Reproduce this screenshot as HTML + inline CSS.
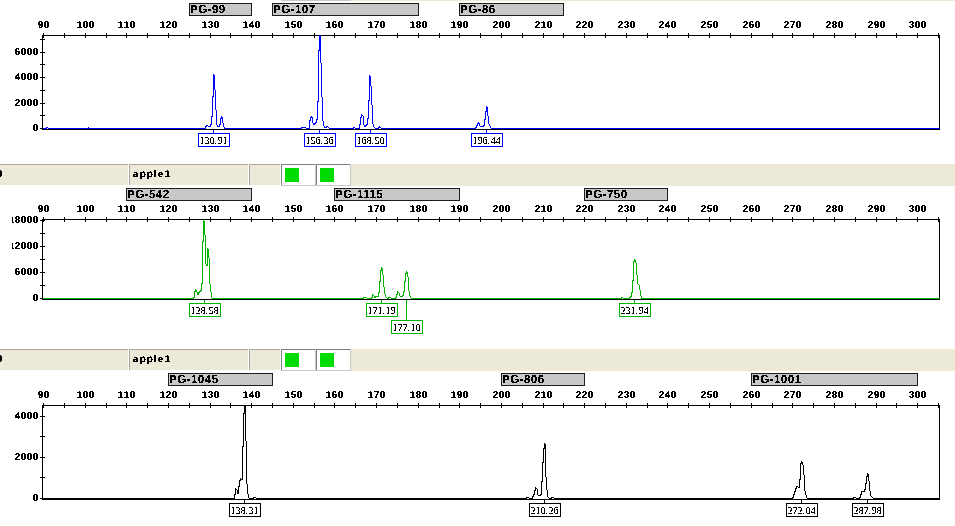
<!DOCTYPE html>
<html><head><meta charset="utf-8"><style>
html,body{margin:0;padding:0;background:#fff;width:955px;height:526px;overflow:hidden}
svg{display:block}
text{font-family:"Liberation Sans",sans-serif;fill:#000;text-rendering:geometricPrecision}
.ax{font-size:10px;font-weight:bold;letter-spacing:0.44px}
.bin{font-size:11.5px;font-weight:bold;letter-spacing:0.5px}
.pk{font-family:"Liberation Serif",serif;font-size:10.5px;text-rendering:auto}
.cell{font-size:10px;font-weight:bold}
</style></head><body>
<svg width="955" height="526" viewBox="0 0 955 526" shape-rendering="crispEdges">
<defs><filter id="crisp" x="0" y="0" width="955" height="526" filterUnits="userSpaceOnUse"><feComponentTransfer><feFuncA type="discrete" tableValues="0 1 1 1 1"/></feComponentTransfer></filter><filter id="crisp4" x="0" y="0" width="955" height="526" filterUnits="userSpaceOnUse"><feComponentTransfer><feFuncA type="discrete" tableValues="0 0 1 1 1"/></feComponentTransfer></filter><clipPath id="clipL"><rect x="12" y="0" width="955" height="526"/></clipPath></defs>
<rect width="955" height="526" fill="#fff"/>
<rect x="351" y="0" width="604" height="1" fill="#ece9d8"/>
<rect x="281" y="0" width="70" height="1" fill="#c8c8c8"/>
<rect x="189" y="3" width="63" height="13" fill="#1e1e1e"/>
<rect x="190" y="4" width="61" height="11" fill="#c8c8c8"/>
<rect x="272" y="3" width="147" height="13" fill="#1e1e1e"/>
<rect x="273" y="4" width="145" height="11" fill="#c8c8c8"/>
<rect x="459" y="3" width="105" height="13" fill="#1e1e1e"/>
<rect x="460" y="4" width="103" height="11" fill="#c8c8c8"/>
<rect x="42" y="35" width="898" height="1" fill="#000"/>
<rect x="42" y="35" width="1" height="95" fill="#000"/>
<rect x="939" y="35" width="1" height="95" fill="#000"/>
<rect x="42" y="129" width="898" height="1" fill="#000"/>
<rect x="43" y="33" width="1" height="5" fill="#000"/>
<rect x="64" y="33" width="1" height="5" fill="#000"/>
<rect x="85" y="33" width="1" height="5" fill="#000"/>
<rect x="106" y="33" width="1" height="5" fill="#000"/>
<rect x="126" y="33" width="1" height="5" fill="#000"/>
<rect x="147" y="33" width="1" height="5" fill="#000"/>
<rect x="168" y="33" width="1" height="5" fill="#000"/>
<rect x="189" y="33" width="1" height="5" fill="#000"/>
<rect x="210" y="33" width="1" height="5" fill="#000"/>
<rect x="230" y="33" width="1" height="5" fill="#000"/>
<rect x="251" y="33" width="1" height="5" fill="#000"/>
<rect x="272" y="33" width="1" height="5" fill="#000"/>
<rect x="293" y="33" width="1" height="5" fill="#000"/>
<rect x="314" y="33" width="1" height="5" fill="#000"/>
<rect x="334" y="33" width="1" height="5" fill="#000"/>
<rect x="355" y="33" width="1" height="5" fill="#000"/>
<rect x="376" y="33" width="1" height="5" fill="#000"/>
<rect x="397" y="33" width="1" height="5" fill="#000"/>
<rect x="418" y="33" width="1" height="5" fill="#000"/>
<rect x="439" y="33" width="1" height="5" fill="#000"/>
<rect x="459" y="33" width="1" height="5" fill="#000"/>
<rect x="480" y="33" width="1" height="5" fill="#000"/>
<rect x="501" y="33" width="1" height="5" fill="#000"/>
<rect x="522" y="33" width="1" height="5" fill="#000"/>
<rect x="543" y="33" width="1" height="5" fill="#000"/>
<rect x="563" y="33" width="1" height="5" fill="#000"/>
<rect x="584" y="33" width="1" height="5" fill="#000"/>
<rect x="605" y="33" width="1" height="5" fill="#000"/>
<rect x="626" y="33" width="1" height="5" fill="#000"/>
<rect x="647" y="33" width="1" height="5" fill="#000"/>
<rect x="667" y="33" width="1" height="5" fill="#000"/>
<rect x="688" y="33" width="1" height="5" fill="#000"/>
<rect x="709" y="33" width="1" height="5" fill="#000"/>
<rect x="730" y="33" width="1" height="5" fill="#000"/>
<rect x="751" y="33" width="1" height="5" fill="#000"/>
<rect x="772" y="33" width="1" height="5" fill="#000"/>
<rect x="792" y="33" width="1" height="5" fill="#000"/>
<rect x="813" y="33" width="1" height="5" fill="#000"/>
<rect x="834" y="33" width="1" height="5" fill="#000"/>
<rect x="855" y="33" width="1" height="5" fill="#000"/>
<rect x="876" y="33" width="1" height="5" fill="#000"/>
<rect x="896" y="33" width="1" height="5" fill="#000"/>
<rect x="917" y="33" width="1" height="5" fill="#000"/>
<rect x="938" y="33" width="1" height="5" fill="#000"/>
<rect x="40" y="128" width="5" height="1" fill="#000"/>
<rect x="40" y="115" width="5" height="1" fill="#000"/>
<rect x="40" y="103" width="5" height="1" fill="#000"/>
<rect x="40" y="90" width="5" height="1" fill="#000"/>
<rect x="40" y="77" width="5" height="1" fill="#000"/>
<rect x="40" y="64" width="5" height="1" fill="#000"/>
<rect x="40" y="52" width="5" height="1" fill="#000"/>
<rect x="40" y="39" width="5" height="1" fill="#000"/>
<path d="M43 128h1v1h-1zM44 128h1v1h-1zM45 128h1v1h-1zM46 127h1v2h-1zM47 127h1v1h-1zM48 128h1v1h-1zM49 128h1v1h-1zM50 128h1v1h-1zM51 128h1v1h-1zM52 128h1v1h-1zM53 128h1v1h-1zM54 128h1v1h-1zM55 128h1v1h-1zM56 128h1v1h-1zM57 128h1v1h-1zM58 128h1v1h-1zM59 128h1v1h-1zM60 128h1v1h-1zM61 128h1v1h-1zM62 128h1v1h-1zM63 128h1v1h-1zM64 128h1v1h-1zM65 128h1v1h-1zM66 128h1v1h-1zM67 128h1v1h-1zM68 128h1v1h-1zM69 128h1v1h-1zM70 128h1v1h-1zM71 128h1v1h-1zM72 128h1v1h-1zM73 128h1v1h-1zM74 128h1v1h-1zM75 128h1v1h-1zM76 128h1v1h-1zM77 128h1v1h-1zM78 128h1v1h-1zM79 128h1v1h-1zM80 128h1v1h-1zM81 128h1v1h-1zM82 128h1v1h-1zM83 128h1v1h-1zM84 128h1v1h-1zM85 128h1v1h-1zM86 128h1v1h-1zM87 128h1v1h-1zM88 127h1v2h-1zM89 128h1v1h-1zM90 128h1v1h-1zM91 128h1v1h-1zM92 128h1v1h-1zM93 128h1v1h-1zM94 128h1v1h-1zM95 128h1v1h-1zM96 128h1v1h-1zM97 128h1v1h-1zM98 128h1v1h-1zM99 128h1v1h-1zM100 128h1v1h-1zM101 128h1v1h-1zM102 128h1v1h-1zM103 128h1v1h-1zM104 128h1v1h-1zM105 128h1v1h-1zM106 128h1v1h-1zM107 128h1v1h-1zM108 128h1v1h-1zM109 128h1v1h-1zM110 128h1v1h-1zM111 128h1v1h-1zM112 128h1v1h-1zM113 128h1v1h-1zM114 128h1v1h-1zM115 128h1v1h-1zM116 128h1v1h-1zM117 128h1v1h-1zM118 128h1v1h-1zM119 128h1v1h-1zM120 128h1v1h-1zM121 128h1v1h-1zM122 128h1v1h-1zM123 128h1v1h-1zM124 128h1v1h-1zM125 128h1v1h-1zM126 128h1v1h-1zM127 128h1v1h-1zM128 128h1v1h-1zM129 128h1v1h-1zM130 128h1v1h-1zM131 128h1v1h-1zM132 128h1v1h-1zM133 128h1v1h-1zM134 128h1v1h-1zM135 128h1v1h-1zM136 128h1v1h-1zM137 128h1v1h-1zM138 128h1v1h-1zM139 128h1v1h-1zM140 128h1v1h-1zM141 128h1v1h-1zM142 128h1v1h-1zM143 128h1v1h-1zM144 128h1v1h-1zM145 128h1v1h-1zM146 128h1v1h-1zM147 128h1v1h-1zM148 128h1v1h-1zM149 128h1v1h-1zM150 128h1v1h-1zM151 128h1v1h-1zM152 128h1v1h-1zM153 128h1v1h-1zM154 128h1v1h-1zM155 128h1v1h-1zM156 128h1v1h-1zM157 128h1v1h-1zM158 128h1v1h-1zM159 128h1v1h-1zM160 128h1v1h-1zM161 128h1v1h-1zM162 128h1v1h-1zM163 128h1v1h-1zM164 128h1v1h-1zM165 128h1v1h-1zM166 128h1v1h-1zM167 128h1v1h-1zM168 128h1v1h-1zM169 128h1v1h-1zM170 128h1v1h-1zM171 128h1v1h-1zM172 128h1v1h-1zM173 128h1v1h-1zM174 128h1v1h-1zM175 128h1v1h-1zM176 128h1v1h-1zM177 128h1v1h-1zM178 128h1v1h-1zM179 128h1v1h-1zM180 128h1v1h-1zM181 128h1v1h-1zM182 128h1v1h-1zM183 128h1v1h-1zM184 128h1v1h-1zM185 128h1v1h-1zM186 128h1v1h-1zM187 128h1v1h-1zM188 128h1v1h-1zM189 128h1v1h-1zM190 128h1v1h-1zM191 128h1v1h-1zM192 128h1v1h-1zM193 128h1v1h-1zM194 128h1v1h-1zM195 128h1v1h-1zM196 128h1v1h-1zM197 128h1v1h-1zM198 128h1v1h-1zM199 128h1v1h-1zM200 128h1v1h-1zM201 128h1v1h-1zM202 128h1v1h-1zM203 128h1v1h-1zM204 128h1v1h-1zM205 126h1v3h-1zM206 125h1v2h-1zM207 125h1v1h-1zM208 126h1v1h-1zM209 126h1v1h-1zM210 124h1v3h-1zM211 116h1v9h-1zM212 96h1v21h-1zM213 74h1v23h-1zM214 75h1v15h-1zM215 90h1v20h-1zM216 110h1v15h-1zM217 125h1v2h-1zM218 126h1v1h-1zM219 124h1v3h-1zM220 118h1v7h-1zM221 116h1v3h-1zM222 117h1v6h-1zM223 123h1v4h-1zM224 127h1v2h-1zM225 128h1v1h-1zM226 128h1v1h-1zM227 128h1v1h-1zM228 128h1v1h-1zM229 128h1v1h-1zM230 128h1v1h-1zM231 128h1v1h-1zM232 128h1v1h-1zM233 128h1v1h-1zM234 128h1v1h-1zM235 128h1v1h-1zM236 128h1v1h-1zM237 128h1v1h-1zM238 128h1v1h-1zM239 128h1v1h-1zM240 128h1v1h-1zM241 128h1v1h-1zM242 128h1v1h-1zM243 128h1v1h-1zM244 128h1v1h-1zM245 128h1v1h-1zM246 128h1v1h-1zM247 128h1v1h-1zM248 128h1v1h-1zM249 128h1v1h-1zM250 128h1v1h-1zM251 128h1v1h-1zM252 128h1v1h-1zM253 128h1v1h-1zM254 128h1v1h-1zM255 128h1v1h-1zM256 128h1v1h-1zM257 128h1v1h-1zM258 128h1v1h-1zM259 128h1v1h-1zM260 128h1v1h-1zM261 128h1v1h-1zM262 128h1v1h-1zM263 128h1v1h-1zM264 128h1v1h-1zM265 128h1v1h-1zM266 128h1v1h-1zM267 128h1v1h-1zM268 128h1v1h-1zM269 128h1v1h-1zM270 128h1v1h-1zM271 128h1v1h-1zM272 128h1v1h-1zM273 128h1v1h-1zM274 128h1v1h-1zM275 128h1v1h-1zM276 128h1v1h-1zM277 128h1v1h-1zM278 128h1v1h-1zM279 128h1v1h-1zM280 128h1v1h-1zM281 128h1v1h-1zM282 128h1v1h-1zM283 128h1v1h-1zM284 128h1v1h-1zM285 128h1v1h-1zM286 128h1v1h-1zM287 128h1v1h-1zM288 128h1v1h-1zM289 128h1v1h-1zM290 128h1v1h-1zM291 128h1v1h-1zM292 128h1v1h-1zM293 128h1v1h-1zM294 128h1v1h-1zM295 128h1v1h-1zM296 128h1v1h-1zM297 128h1v1h-1zM298 128h1v1h-1zM299 128h1v1h-1zM300 128h1v1h-1zM301 127h1v2h-1zM302 127h1v1h-1zM303 127h1v1h-1zM304 127h1v1h-1zM305 127h1v1h-1zM306 128h1v1h-1zM307 128h1v1h-1zM308 128h1v1h-1zM309 120h1v9h-1zM310 117h1v4h-1zM311 116h1v2h-1zM312 117h1v6h-1zM313 123h1v2h-1zM314 123h1v2h-1zM315 122h1v2h-1zM316 119h1v4h-1zM317 101h1v19h-1zM318 50h1v52h-1zM319 35h1v16h-1zM320 36h1v27h-1zM321 63h1v34h-1zM322 97h1v24h-1zM323 121h1v5h-1zM324 126h1v2h-1zM325 127h1v1h-1zM326 126h1v2h-1zM327 126h1v1h-1zM328 127h1v1h-1zM329 128h1v1h-1zM330 128h1v1h-1zM331 128h1v1h-1zM332 128h1v1h-1zM333 128h1v1h-1zM334 128h1v1h-1zM335 128h1v1h-1zM336 128h1v1h-1zM337 128h1v1h-1zM338 128h1v1h-1zM339 128h1v1h-1zM340 128h1v1h-1zM341 128h1v1h-1zM342 128h1v1h-1zM343 128h1v1h-1zM344 128h1v1h-1zM345 128h1v1h-1zM346 128h1v1h-1zM347 128h1v1h-1zM348 128h1v1h-1zM349 128h1v1h-1zM350 128h1v1h-1zM351 128h1v1h-1zM352 128h1v1h-1zM353 127h1v2h-1zM354 127h1v1h-1zM355 128h1v1h-1zM356 128h1v1h-1zM357 128h1v1h-1zM358 128h1v1h-1zM359 124h1v5h-1zM360 117h1v8h-1zM361 114h1v4h-1zM362 115h1v1h-1zM363 116h1v9h-1zM364 125h1v2h-1zM365 125h1v2h-1zM366 124h1v2h-1zM367 118h1v7h-1zM368 100h1v19h-1zM369 75h1v26h-1zM370 76h1v10h-1zM371 86h1v19h-1zM372 105h1v19h-1zM373 124h1v3h-1zM374 127h1v1h-1zM375 128h1v1h-1zM376 128h1v1h-1zM377 128h1v1h-1zM378 127h1v2h-1zM379 126h1v2h-1zM380 127h1v1h-1zM381 128h1v1h-1zM382 128h1v1h-1zM383 128h1v1h-1zM384 128h1v1h-1zM385 128h1v1h-1zM386 128h1v1h-1zM387 128h1v1h-1zM388 128h1v1h-1zM389 128h1v1h-1zM390 128h1v1h-1zM391 128h1v1h-1zM392 128h1v1h-1zM393 128h1v1h-1zM394 128h1v1h-1zM395 128h1v1h-1zM396 128h1v1h-1zM397 128h1v1h-1zM398 128h1v1h-1zM399 128h1v1h-1zM400 128h1v1h-1zM401 128h1v1h-1zM402 128h1v1h-1zM403 128h1v1h-1zM404 128h1v1h-1zM405 128h1v1h-1zM406 128h1v1h-1zM407 128h1v1h-1zM408 128h1v1h-1zM409 128h1v1h-1zM410 128h1v1h-1zM411 128h1v1h-1zM412 128h1v1h-1zM413 128h1v1h-1zM414 128h1v1h-1zM415 128h1v1h-1zM416 128h1v1h-1zM417 128h1v1h-1zM418 128h1v1h-1zM419 128h1v1h-1zM420 128h1v1h-1zM421 128h1v1h-1zM422 128h1v1h-1zM423 128h1v1h-1zM424 128h1v1h-1zM425 128h1v1h-1zM426 128h1v1h-1zM427 128h1v1h-1zM428 128h1v1h-1zM429 128h1v1h-1zM430 128h1v1h-1zM431 128h1v1h-1zM432 128h1v1h-1zM433 128h1v1h-1zM434 128h1v1h-1zM435 128h1v1h-1zM436 128h1v1h-1zM437 128h1v1h-1zM438 128h1v1h-1zM439 128h1v1h-1zM440 128h1v1h-1zM441 128h1v1h-1zM442 128h1v1h-1zM443 128h1v1h-1zM444 128h1v1h-1zM445 128h1v1h-1zM446 128h1v1h-1zM447 128h1v1h-1zM448 128h1v1h-1zM449 128h1v1h-1zM450 128h1v1h-1zM451 128h1v1h-1zM452 128h1v1h-1zM453 128h1v1h-1zM454 128h1v1h-1zM455 128h1v1h-1zM456 128h1v1h-1zM457 128h1v1h-1zM458 128h1v1h-1zM459 128h1v1h-1zM460 128h1v1h-1zM461 128h1v1h-1zM462 128h1v1h-1zM463 128h1v1h-1zM464 128h1v1h-1zM465 128h1v1h-1zM466 128h1v1h-1zM467 128h1v1h-1zM468 128h1v1h-1zM469 128h1v1h-1zM470 128h1v1h-1zM471 128h1v1h-1zM472 128h1v1h-1zM473 128h1v1h-1zM474 128h1v1h-1zM475 127h1v2h-1zM476 125h1v3h-1zM477 123h1v3h-1zM478 122h1v2h-1zM479 123h1v3h-1zM480 126h1v1h-1zM481 126h1v1h-1zM482 126h1v1h-1zM483 125h1v2h-1zM484 119h1v7h-1zM485 111h1v9h-1zM486 106h1v6h-1zM487 107h1v9h-1zM488 116h1v8h-1zM489 124h1v2h-1zM490 126h1v2h-1zM491 128h1v1h-1zM492 128h1v1h-1zM493 128h1v1h-1zM494 128h1v1h-1zM495 128h1v1h-1zM496 128h1v1h-1zM497 128h1v1h-1zM498 128h1v1h-1zM499 128h1v1h-1zM500 128h1v1h-1zM501 128h1v1h-1zM502 128h1v1h-1zM503 128h1v1h-1zM504 128h1v1h-1zM505 128h1v1h-1zM506 128h1v1h-1zM507 128h1v1h-1zM508 128h1v1h-1zM509 128h1v1h-1zM510 128h1v1h-1zM511 128h1v1h-1zM512 128h1v1h-1zM513 128h1v1h-1zM514 128h1v1h-1zM515 128h1v1h-1zM516 128h1v1h-1zM517 128h1v1h-1zM518 128h1v1h-1zM519 128h1v1h-1zM520 128h1v1h-1zM521 128h1v1h-1zM522 128h1v1h-1zM523 128h1v1h-1zM524 128h1v1h-1zM525 128h1v1h-1zM526 128h1v1h-1zM527 128h1v1h-1zM528 128h1v1h-1zM529 128h1v1h-1zM530 128h1v1h-1zM531 128h1v1h-1zM532 128h1v1h-1zM533 128h1v1h-1zM534 128h1v1h-1zM535 128h1v1h-1zM536 128h1v1h-1zM537 128h1v1h-1zM538 128h1v1h-1zM539 128h1v1h-1zM540 128h1v1h-1zM541 128h1v1h-1zM542 128h1v1h-1zM543 128h1v1h-1zM544 128h1v1h-1zM545 128h1v1h-1zM546 128h1v1h-1zM547 128h1v1h-1zM548 128h1v1h-1zM549 128h1v1h-1zM550 128h1v1h-1zM551 128h1v1h-1zM552 128h1v1h-1zM553 128h1v1h-1zM554 128h1v1h-1zM555 128h1v1h-1zM556 128h1v1h-1zM557 128h1v1h-1zM558 128h1v1h-1zM559 128h1v1h-1zM560 128h1v1h-1zM561 128h1v1h-1zM562 128h1v1h-1zM563 128h1v1h-1zM564 128h1v1h-1zM565 128h1v1h-1zM566 128h1v1h-1zM567 128h1v1h-1zM568 128h1v1h-1zM569 128h1v1h-1zM570 128h1v1h-1zM571 128h1v1h-1zM572 128h1v1h-1zM573 128h1v1h-1zM574 128h1v1h-1zM575 128h1v1h-1zM576 128h1v1h-1zM577 128h1v1h-1zM578 128h1v1h-1zM579 128h1v1h-1zM580 128h1v1h-1zM581 128h1v1h-1zM582 128h1v1h-1zM583 128h1v1h-1zM584 128h1v1h-1zM585 128h1v1h-1zM586 128h1v1h-1zM587 128h1v1h-1zM588 128h1v1h-1zM589 128h1v1h-1zM590 128h1v1h-1zM591 128h1v1h-1zM592 128h1v1h-1zM593 128h1v1h-1zM594 128h1v1h-1zM595 128h1v1h-1zM596 128h1v1h-1zM597 128h1v1h-1zM598 128h1v1h-1zM599 128h1v1h-1zM600 128h1v1h-1zM601 128h1v1h-1zM602 128h1v1h-1zM603 128h1v1h-1zM604 128h1v1h-1zM605 128h1v1h-1zM606 128h1v1h-1zM607 128h1v1h-1zM608 128h1v1h-1zM609 128h1v1h-1zM610 128h1v1h-1zM611 128h1v1h-1zM612 128h1v1h-1zM613 128h1v1h-1zM614 128h1v1h-1zM615 128h1v1h-1zM616 128h1v1h-1zM617 128h1v1h-1zM618 128h1v1h-1zM619 128h1v1h-1zM620 128h1v1h-1zM621 128h1v1h-1zM622 128h1v1h-1zM623 128h1v1h-1zM624 128h1v1h-1zM625 128h1v1h-1zM626 128h1v1h-1zM627 128h1v1h-1zM628 128h1v1h-1zM629 128h1v1h-1zM630 128h1v1h-1zM631 128h1v1h-1zM632 128h1v1h-1zM633 128h1v1h-1zM634 128h1v1h-1zM635 128h1v1h-1zM636 128h1v1h-1zM637 128h1v1h-1zM638 128h1v1h-1zM639 128h1v1h-1zM640 128h1v1h-1zM641 128h1v1h-1zM642 128h1v1h-1zM643 128h1v1h-1zM644 128h1v1h-1zM645 128h1v1h-1zM646 128h1v1h-1zM647 128h1v1h-1zM648 128h1v1h-1zM649 128h1v1h-1zM650 128h1v1h-1zM651 128h1v1h-1zM652 128h1v1h-1zM653 128h1v1h-1zM654 128h1v1h-1zM655 128h1v1h-1zM656 128h1v1h-1zM657 128h1v1h-1zM658 128h1v1h-1zM659 128h1v1h-1zM660 128h1v1h-1zM661 128h1v1h-1zM662 128h1v1h-1zM663 128h1v1h-1zM664 128h1v1h-1zM665 128h1v1h-1zM666 128h1v1h-1zM667 128h1v1h-1zM668 128h1v1h-1zM669 128h1v1h-1zM670 128h1v1h-1zM671 128h1v1h-1zM672 128h1v1h-1zM673 128h1v1h-1zM674 128h1v1h-1zM675 128h1v1h-1zM676 128h1v1h-1zM677 128h1v1h-1zM678 128h1v1h-1zM679 128h1v1h-1zM680 128h1v1h-1zM681 128h1v1h-1zM682 128h1v1h-1zM683 128h1v1h-1zM684 128h1v1h-1zM685 128h1v1h-1zM686 128h1v1h-1zM687 128h1v1h-1zM688 128h1v1h-1zM689 128h1v1h-1zM690 128h1v1h-1zM691 128h1v1h-1zM692 128h1v1h-1zM693 128h1v1h-1zM694 128h1v1h-1zM695 128h1v1h-1zM696 128h1v1h-1zM697 128h1v1h-1zM698 128h1v1h-1zM699 128h1v1h-1zM700 128h1v1h-1zM701 128h1v1h-1zM702 128h1v1h-1zM703 128h1v1h-1zM704 128h1v1h-1zM705 128h1v1h-1zM706 128h1v1h-1zM707 128h1v1h-1zM708 128h1v1h-1zM709 128h1v1h-1zM710 128h1v1h-1zM711 128h1v1h-1zM712 128h1v1h-1zM713 128h1v1h-1zM714 128h1v1h-1zM715 128h1v1h-1zM716 128h1v1h-1zM717 128h1v1h-1zM718 128h1v1h-1zM719 128h1v1h-1zM720 128h1v1h-1zM721 128h1v1h-1zM722 128h1v1h-1zM723 128h1v1h-1zM724 128h1v1h-1zM725 128h1v1h-1zM726 128h1v1h-1zM727 128h1v1h-1zM728 128h1v1h-1zM729 128h1v1h-1zM730 128h1v1h-1zM731 128h1v1h-1zM732 128h1v1h-1zM733 128h1v1h-1zM734 128h1v1h-1zM735 128h1v1h-1zM736 128h1v1h-1zM737 128h1v1h-1zM738 128h1v1h-1zM739 128h1v1h-1zM740 128h1v1h-1zM741 128h1v1h-1zM742 128h1v1h-1zM743 128h1v1h-1zM744 128h1v1h-1zM745 128h1v1h-1zM746 128h1v1h-1zM747 128h1v1h-1zM748 128h1v1h-1zM749 128h1v1h-1zM750 128h1v1h-1zM751 128h1v1h-1zM752 128h1v1h-1zM753 128h1v1h-1zM754 128h1v1h-1zM755 128h1v1h-1zM756 128h1v1h-1zM757 128h1v1h-1zM758 128h1v1h-1zM759 128h1v1h-1zM760 128h1v1h-1zM761 128h1v1h-1zM762 128h1v1h-1zM763 128h1v1h-1zM764 128h1v1h-1zM765 128h1v1h-1zM766 128h1v1h-1zM767 128h1v1h-1zM768 128h1v1h-1zM769 128h1v1h-1zM770 128h1v1h-1zM771 128h1v1h-1zM772 128h1v1h-1zM773 128h1v1h-1zM774 128h1v1h-1zM775 128h1v1h-1zM776 128h1v1h-1zM777 128h1v1h-1zM778 128h1v1h-1zM779 128h1v1h-1zM780 128h1v1h-1zM781 128h1v1h-1zM782 128h1v1h-1zM783 128h1v1h-1zM784 128h1v1h-1zM785 128h1v1h-1zM786 128h1v1h-1zM787 128h1v1h-1zM788 128h1v1h-1zM789 128h1v1h-1zM790 128h1v1h-1zM791 128h1v1h-1zM792 128h1v1h-1zM793 128h1v1h-1zM794 128h1v1h-1zM795 128h1v1h-1zM796 128h1v1h-1zM797 128h1v1h-1zM798 128h1v1h-1zM799 128h1v1h-1zM800 128h1v1h-1zM801 128h1v1h-1zM802 128h1v1h-1zM803 128h1v1h-1zM804 128h1v1h-1zM805 128h1v1h-1zM806 128h1v1h-1zM807 128h1v1h-1zM808 128h1v1h-1zM809 128h1v1h-1zM810 128h1v1h-1zM811 128h1v1h-1zM812 128h1v1h-1zM813 128h1v1h-1zM814 128h1v1h-1zM815 128h1v1h-1zM816 128h1v1h-1zM817 128h1v1h-1zM818 128h1v1h-1zM819 128h1v1h-1zM820 128h1v1h-1zM821 128h1v1h-1zM822 128h1v1h-1zM823 128h1v1h-1zM824 128h1v1h-1zM825 128h1v1h-1zM826 128h1v1h-1zM827 128h1v1h-1zM828 128h1v1h-1zM829 128h1v1h-1zM830 128h1v1h-1zM831 128h1v1h-1zM832 128h1v1h-1zM833 128h1v1h-1zM834 128h1v1h-1zM835 128h1v1h-1zM836 128h1v1h-1zM837 128h1v1h-1zM838 128h1v1h-1zM839 128h1v1h-1zM840 128h1v1h-1zM841 128h1v1h-1zM842 128h1v1h-1zM843 128h1v1h-1zM844 128h1v1h-1zM845 128h1v1h-1zM846 128h1v1h-1zM847 128h1v1h-1zM848 128h1v1h-1zM849 128h1v1h-1zM850 128h1v1h-1zM851 128h1v1h-1zM852 128h1v1h-1zM853 128h1v1h-1zM854 128h1v1h-1zM855 128h1v1h-1zM856 128h1v1h-1zM857 128h1v1h-1zM858 128h1v1h-1zM859 128h1v1h-1zM860 128h1v1h-1zM861 128h1v1h-1zM862 128h1v1h-1zM863 128h1v1h-1zM864 128h1v1h-1zM865 128h1v1h-1zM866 128h1v1h-1zM867 128h1v1h-1zM868 128h1v1h-1zM869 128h1v1h-1zM870 128h1v1h-1zM871 128h1v1h-1zM872 128h1v1h-1zM873 128h1v1h-1zM874 128h1v1h-1zM875 128h1v1h-1zM876 128h1v1h-1zM877 128h1v1h-1zM878 128h1v1h-1zM879 128h1v1h-1zM880 128h1v1h-1zM881 128h1v1h-1zM882 128h1v1h-1zM883 128h1v1h-1zM884 128h1v1h-1zM885 128h1v1h-1zM886 128h1v1h-1zM887 128h1v1h-1zM888 128h1v1h-1zM889 128h1v1h-1zM890 128h1v1h-1zM891 128h1v1h-1zM892 128h1v1h-1zM893 128h1v1h-1zM894 128h1v1h-1zM895 128h1v1h-1zM896 128h1v1h-1zM897 128h1v1h-1zM898 128h1v1h-1zM899 128h1v1h-1zM900 128h1v1h-1zM901 128h1v1h-1zM902 128h1v1h-1zM903 128h1v1h-1zM904 128h1v1h-1zM905 128h1v1h-1zM906 128h1v1h-1zM907 128h1v1h-1zM908 128h1v1h-1zM909 128h1v1h-1zM910 128h1v1h-1zM911 128h1v1h-1zM912 128h1v1h-1zM913 128h1v1h-1zM914 128h1v1h-1zM915 128h1v1h-1zM916 128h1v1h-1zM917 128h1v1h-1zM918 128h1v1h-1zM919 128h1v1h-1zM920 128h1v1h-1zM921 128h1v1h-1zM922 128h1v1h-1zM923 128h1v1h-1zM924 128h1v1h-1zM925 128h1v1h-1zM926 128h1v1h-1zM927 128h1v1h-1zM928 128h1v1h-1zM929 128h1v1h-1zM930 128h1v1h-1zM931 128h1v1h-1zM932 128h1v1h-1zM933 128h1v1h-1zM934 128h1v1h-1zM935 128h1v1h-1zM936 128h1v1h-1zM937 128h1v1h-1zM938 128h1v1h-1zM939 128h1v1h-1z" fill="#0000ff"/>
<rect x="213" y="130" width="1" height="3" fill="#0000ff"/>
<rect x="198" y="133" width="32" height="14" fill="#0000ff"/>
<rect x="199" y="134" width="30" height="12" fill="#fff"/>
<rect x="319" y="130" width="1" height="3" fill="#0000ff"/>
<rect x="304" y="133" width="32" height="14" fill="#0000ff"/>
<rect x="305" y="134" width="30" height="12" fill="#fff"/>
<rect x="370" y="130" width="1" height="3" fill="#0000ff"/>
<rect x="355" y="133" width="32" height="14" fill="#0000ff"/>
<rect x="356" y="134" width="30" height="12" fill="#fff"/>
<rect x="486" y="130" width="1" height="3" fill="#0000ff"/>
<rect x="471" y="133" width="32" height="14" fill="#0000ff"/>
<rect x="472" y="134" width="30" height="12" fill="#fff"/>
<rect x="351" y="164" width="604" height="22" fill="#ece9d8"/>
<rect x="0" y="164" width="128" height="21" fill="#ece9d8"/>
<rect x="0" y="164" width="128" height="1" fill="#aca899"/>
<rect x="129" y="164" width="119" height="21" fill="#ece9d8"/>
<rect x="129" y="164" width="119" height="1" fill="#aca899"/>
<rect x="129" y="164" width="1" height="21" fill="#aca899"/>
<rect x="249" y="164" width="31" height="21" fill="#ece9d8"/>
<rect x="249" y="164" width="31" height="1" fill="#aca899"/>
<rect x="249" y="164" width="1" height="21" fill="#aca899"/>
<rect x="281" y="164" width="35" height="22" fill="#c8c8c8"/>
<rect x="281" y="164" width="34" height="21" fill="#808080"/>
<rect x="282" y="165" width="33" height="20" fill="#ffffff"/>
<rect x="316" y="164" width="35" height="22" fill="#c8c8c8"/>
<rect x="316" y="164" width="34" height="21" fill="#808080"/>
<rect x="317" y="165" width="33" height="20" fill="#ffffff"/>
<rect x="285" y="168" width="14" height="14" fill="#00dc00"/>
<rect x="320" y="168" width="14" height="14" fill="#00dc00"/>
<rect x="126" y="188" width="126" height="13" fill="#1e1e1e"/>
<rect x="127" y="189" width="124" height="11" fill="#c8c8c8"/>
<rect x="334" y="188" width="126" height="13" fill="#1e1e1e"/>
<rect x="335" y="189" width="124" height="11" fill="#c8c8c8"/>
<rect x="584" y="188" width="84" height="13" fill="#1e1e1e"/>
<rect x="585" y="189" width="82" height="11" fill="#c8c8c8"/>
<rect x="42" y="219" width="898" height="1" fill="#000"/>
<rect x="42" y="219" width="1" height="81" fill="#000"/>
<rect x="939" y="219" width="1" height="81" fill="#000"/>
<rect x="42" y="299" width="898" height="1" fill="#000"/>
<rect x="43" y="217" width="1" height="5" fill="#000"/>
<rect x="64" y="217" width="1" height="5" fill="#000"/>
<rect x="85" y="217" width="1" height="5" fill="#000"/>
<rect x="106" y="217" width="1" height="5" fill="#000"/>
<rect x="126" y="217" width="1" height="5" fill="#000"/>
<rect x="147" y="217" width="1" height="5" fill="#000"/>
<rect x="168" y="217" width="1" height="5" fill="#000"/>
<rect x="189" y="217" width="1" height="5" fill="#000"/>
<rect x="210" y="217" width="1" height="5" fill="#000"/>
<rect x="230" y="217" width="1" height="5" fill="#000"/>
<rect x="251" y="217" width="1" height="5" fill="#000"/>
<rect x="272" y="217" width="1" height="5" fill="#000"/>
<rect x="293" y="217" width="1" height="5" fill="#000"/>
<rect x="314" y="217" width="1" height="5" fill="#000"/>
<rect x="334" y="217" width="1" height="5" fill="#000"/>
<rect x="355" y="217" width="1" height="5" fill="#000"/>
<rect x="376" y="217" width="1" height="5" fill="#000"/>
<rect x="397" y="217" width="1" height="5" fill="#000"/>
<rect x="418" y="217" width="1" height="5" fill="#000"/>
<rect x="439" y="217" width="1" height="5" fill="#000"/>
<rect x="459" y="217" width="1" height="5" fill="#000"/>
<rect x="480" y="217" width="1" height="5" fill="#000"/>
<rect x="501" y="217" width="1" height="5" fill="#000"/>
<rect x="522" y="217" width="1" height="5" fill="#000"/>
<rect x="543" y="217" width="1" height="5" fill="#000"/>
<rect x="563" y="217" width="1" height="5" fill="#000"/>
<rect x="584" y="217" width="1" height="5" fill="#000"/>
<rect x="605" y="217" width="1" height="5" fill="#000"/>
<rect x="626" y="217" width="1" height="5" fill="#000"/>
<rect x="647" y="217" width="1" height="5" fill="#000"/>
<rect x="667" y="217" width="1" height="5" fill="#000"/>
<rect x="688" y="217" width="1" height="5" fill="#000"/>
<rect x="709" y="217" width="1" height="5" fill="#000"/>
<rect x="730" y="217" width="1" height="5" fill="#000"/>
<rect x="751" y="217" width="1" height="5" fill="#000"/>
<rect x="772" y="217" width="1" height="5" fill="#000"/>
<rect x="792" y="217" width="1" height="5" fill="#000"/>
<rect x="813" y="217" width="1" height="5" fill="#000"/>
<rect x="834" y="217" width="1" height="5" fill="#000"/>
<rect x="855" y="217" width="1" height="5" fill="#000"/>
<rect x="876" y="217" width="1" height="5" fill="#000"/>
<rect x="896" y="217" width="1" height="5" fill="#000"/>
<rect x="917" y="217" width="1" height="5" fill="#000"/>
<rect x="938" y="217" width="1" height="5" fill="#000"/>
<rect x="40" y="298" width="5" height="1" fill="#000"/>
<rect x="40" y="285" width="5" height="1" fill="#000"/>
<rect x="40" y="272" width="5" height="1" fill="#000"/>
<rect x="40" y="259" width="5" height="1" fill="#000"/>
<rect x="40" y="246" width="5" height="1" fill="#000"/>
<rect x="40" y="233" width="5" height="1" fill="#000"/>
<rect x="40" y="220" width="5" height="1" fill="#000"/>
<path d="M43 298h1v1h-1zM44 298h1v1h-1zM45 298h1v1h-1zM46 298h1v1h-1zM47 298h1v1h-1zM48 298h1v1h-1zM49 298h1v1h-1zM50 298h1v1h-1zM51 298h1v1h-1zM52 298h1v1h-1zM53 298h1v1h-1zM54 298h1v1h-1zM55 298h1v1h-1zM56 298h1v1h-1zM57 298h1v1h-1zM58 298h1v1h-1zM59 298h1v1h-1zM60 298h1v1h-1zM61 298h1v1h-1zM62 298h1v1h-1zM63 298h1v1h-1zM64 298h1v1h-1zM65 298h1v1h-1zM66 298h1v1h-1zM67 298h1v1h-1zM68 298h1v1h-1zM69 298h1v1h-1zM70 298h1v1h-1zM71 298h1v1h-1zM72 298h1v1h-1zM73 298h1v1h-1zM74 298h1v1h-1zM75 298h1v1h-1zM76 298h1v1h-1zM77 298h1v1h-1zM78 298h1v1h-1zM79 298h1v1h-1zM80 298h1v1h-1zM81 298h1v1h-1zM82 298h1v1h-1zM83 298h1v1h-1zM84 298h1v1h-1zM85 298h1v1h-1zM86 298h1v1h-1zM87 298h1v1h-1zM88 298h1v1h-1zM89 298h1v1h-1zM90 298h1v1h-1zM91 298h1v1h-1zM92 298h1v1h-1zM93 298h1v1h-1zM94 298h1v1h-1zM95 298h1v1h-1zM96 298h1v1h-1zM97 298h1v1h-1zM98 298h1v1h-1zM99 298h1v1h-1zM100 298h1v1h-1zM101 298h1v1h-1zM102 298h1v1h-1zM103 298h1v1h-1zM104 298h1v1h-1zM105 298h1v1h-1zM106 298h1v1h-1zM107 298h1v1h-1zM108 298h1v1h-1zM109 298h1v1h-1zM110 298h1v1h-1zM111 298h1v1h-1zM112 298h1v1h-1zM113 298h1v1h-1zM114 298h1v1h-1zM115 298h1v1h-1zM116 298h1v1h-1zM117 298h1v1h-1zM118 298h1v1h-1zM119 298h1v1h-1zM120 298h1v1h-1zM121 298h1v1h-1zM122 298h1v1h-1zM123 298h1v1h-1zM124 298h1v1h-1zM125 298h1v1h-1zM126 298h1v1h-1zM127 298h1v1h-1zM128 298h1v1h-1zM129 298h1v1h-1zM130 298h1v1h-1zM131 298h1v1h-1zM132 298h1v1h-1zM133 298h1v1h-1zM134 298h1v1h-1zM135 298h1v1h-1zM136 298h1v1h-1zM137 298h1v1h-1zM138 298h1v1h-1zM139 298h1v1h-1zM140 298h1v1h-1zM141 298h1v1h-1zM142 298h1v1h-1zM143 298h1v1h-1zM144 298h1v1h-1zM145 298h1v1h-1zM146 298h1v1h-1zM147 298h1v1h-1zM148 298h1v1h-1zM149 298h1v1h-1zM150 298h1v1h-1zM151 298h1v1h-1zM152 298h1v1h-1zM153 298h1v1h-1zM154 298h1v1h-1zM155 298h1v1h-1zM156 298h1v1h-1zM157 298h1v1h-1zM158 298h1v1h-1zM159 298h1v1h-1zM160 298h1v1h-1zM161 298h1v1h-1zM162 298h1v1h-1zM163 298h1v1h-1zM164 298h1v1h-1zM165 298h1v1h-1zM166 298h1v1h-1zM167 298h1v1h-1zM168 298h1v1h-1zM169 298h1v1h-1zM170 298h1v1h-1zM171 298h1v1h-1zM172 298h1v1h-1zM173 298h1v1h-1zM174 298h1v1h-1zM175 298h1v1h-1zM176 298h1v1h-1zM177 298h1v1h-1zM178 298h1v1h-1zM179 298h1v1h-1zM180 298h1v1h-1zM181 298h1v1h-1zM182 298h1v1h-1zM183 298h1v1h-1zM184 298h1v1h-1zM185 298h1v1h-1zM186 298h1v1h-1zM187 298h1v1h-1zM188 298h1v1h-1zM189 298h1v1h-1zM190 298h1v1h-1zM191 298h1v1h-1zM192 298h1v1h-1zM193 297h1v2h-1zM194 291h1v7h-1zM195 289h1v3h-1zM196 290h1v2h-1zM197 292h1v3h-1zM198 292h1v3h-1zM199 291h1v2h-1zM200 290h1v2h-1zM201 283h1v8h-1zM202 241h1v43h-1zM203 220h1v22h-1zM204 221h1v14h-1zM205 235h1v29h-1zM206 264h1v2h-1zM207 248h1v18h-1zM208 249h1v9h-1zM209 258h1v26h-1zM210 284h1v8h-1zM211 292h1v6h-1zM212 298h1v1h-1zM213 298h1v1h-1zM214 298h1v1h-1zM215 298h1v1h-1zM216 298h1v1h-1zM217 298h1v1h-1zM218 298h1v1h-1zM219 298h1v1h-1zM220 298h1v1h-1zM221 298h1v1h-1zM222 298h1v1h-1zM223 298h1v1h-1zM224 298h1v1h-1zM225 298h1v1h-1zM226 298h1v1h-1zM227 298h1v1h-1zM228 298h1v1h-1zM229 298h1v1h-1zM230 298h1v1h-1zM231 298h1v1h-1zM232 298h1v1h-1zM233 298h1v1h-1zM234 298h1v1h-1zM235 298h1v1h-1zM236 298h1v1h-1zM237 298h1v1h-1zM238 298h1v1h-1zM239 298h1v1h-1zM240 298h1v1h-1zM241 298h1v1h-1zM242 298h1v1h-1zM243 298h1v1h-1zM244 298h1v1h-1zM245 298h1v1h-1zM246 298h1v1h-1zM247 298h1v1h-1zM248 298h1v1h-1zM249 298h1v1h-1zM250 298h1v1h-1zM251 298h1v1h-1zM252 298h1v1h-1zM253 298h1v1h-1zM254 298h1v1h-1zM255 298h1v1h-1zM256 298h1v1h-1zM257 298h1v1h-1zM258 298h1v1h-1zM259 298h1v1h-1zM260 298h1v1h-1zM261 298h1v1h-1zM262 298h1v1h-1zM263 298h1v1h-1zM264 298h1v1h-1zM265 298h1v1h-1zM266 298h1v1h-1zM267 298h1v1h-1zM268 298h1v1h-1zM269 298h1v1h-1zM270 298h1v1h-1zM271 298h1v1h-1zM272 298h1v1h-1zM273 298h1v1h-1zM274 298h1v1h-1zM275 298h1v1h-1zM276 298h1v1h-1zM277 298h1v1h-1zM278 298h1v1h-1zM279 298h1v1h-1zM280 298h1v1h-1zM281 298h1v1h-1zM282 298h1v1h-1zM283 298h1v1h-1zM284 298h1v1h-1zM285 298h1v1h-1zM286 298h1v1h-1zM287 298h1v1h-1zM288 298h1v1h-1zM289 298h1v1h-1zM290 298h1v1h-1zM291 298h1v1h-1zM292 298h1v1h-1zM293 298h1v1h-1zM294 298h1v1h-1zM295 298h1v1h-1zM296 298h1v1h-1zM297 298h1v1h-1zM298 298h1v1h-1zM299 298h1v1h-1zM300 298h1v1h-1zM301 298h1v1h-1zM302 298h1v1h-1zM303 298h1v1h-1zM304 298h1v1h-1zM305 298h1v1h-1zM306 298h1v1h-1zM307 298h1v1h-1zM308 298h1v1h-1zM309 298h1v1h-1zM310 298h1v1h-1zM311 298h1v1h-1zM312 298h1v1h-1zM313 298h1v1h-1zM314 298h1v1h-1zM315 298h1v1h-1zM316 298h1v1h-1zM317 298h1v1h-1zM318 298h1v1h-1zM319 298h1v1h-1zM320 298h1v1h-1zM321 298h1v1h-1zM322 298h1v1h-1zM323 298h1v1h-1zM324 298h1v1h-1zM325 298h1v1h-1zM326 298h1v1h-1zM327 298h1v1h-1zM328 298h1v1h-1zM329 298h1v1h-1zM330 298h1v1h-1zM331 298h1v1h-1zM332 298h1v1h-1zM333 298h1v1h-1zM334 298h1v1h-1zM335 298h1v1h-1zM336 298h1v1h-1zM337 298h1v1h-1zM338 298h1v1h-1zM339 298h1v1h-1zM340 298h1v1h-1zM341 298h1v1h-1zM342 298h1v1h-1zM343 298h1v1h-1zM344 298h1v1h-1zM345 298h1v1h-1zM346 298h1v1h-1zM347 298h1v1h-1zM348 298h1v1h-1zM349 298h1v1h-1zM350 298h1v1h-1zM351 298h1v1h-1zM352 298h1v1h-1zM353 298h1v1h-1zM354 298h1v1h-1zM355 298h1v1h-1zM356 298h1v1h-1zM357 298h1v1h-1zM358 298h1v1h-1zM359 298h1v1h-1zM360 298h1v1h-1zM361 298h1v1h-1zM362 298h1v1h-1zM363 297h1v2h-1zM364 297h1v1h-1zM365 297h1v1h-1zM366 297h1v1h-1zM367 298h1v1h-1zM368 298h1v1h-1zM369 298h1v1h-1zM370 298h1v1h-1zM371 297h1v2h-1zM372 294h1v4h-1zM373 295h1v1h-1zM374 296h1v2h-1zM375 296h1v2h-1zM376 296h1v1h-1zM377 296h1v1h-1zM378 292h1v5h-1zM379 281h1v12h-1zM380 270h1v12h-1zM381 267h1v4h-1zM382 268h1v7h-1zM383 275h1v12h-1zM384 287h1v7h-1zM385 294h1v3h-1zM386 297h1v1h-1zM387 298h1v1h-1zM388 297h1v2h-1zM389 297h1v1h-1zM390 297h1v1h-1zM391 298h1v1h-1zM392 298h1v1h-1zM393 298h1v1h-1zM394 298h1v1h-1zM395 297h1v2h-1zM396 294h1v4h-1zM397 291h1v4h-1zM398 292h1v1h-1zM399 293h1v3h-1zM400 296h1v1h-1zM401 296h1v1h-1zM402 295h1v2h-1zM403 291h1v5h-1zM404 281h1v11h-1zM405 273h1v9h-1zM406 271h1v3h-1zM407 272h1v5h-1zM408 277h1v14h-1zM409 291h1v5h-1zM410 296h1v2h-1zM411 298h1v1h-1zM412 298h1v1h-1zM413 298h1v1h-1zM414 298h1v1h-1zM415 298h1v1h-1zM416 298h1v1h-1zM417 298h1v1h-1zM418 298h1v1h-1zM419 298h1v1h-1zM420 298h1v1h-1zM421 298h1v1h-1zM422 298h1v1h-1zM423 298h1v1h-1zM424 298h1v1h-1zM425 298h1v1h-1zM426 298h1v1h-1zM427 298h1v1h-1zM428 298h1v1h-1zM429 298h1v1h-1zM430 298h1v1h-1zM431 298h1v1h-1zM432 298h1v1h-1zM433 298h1v1h-1zM434 298h1v1h-1zM435 298h1v1h-1zM436 298h1v1h-1zM437 298h1v1h-1zM438 298h1v1h-1zM439 298h1v1h-1zM440 298h1v1h-1zM441 298h1v1h-1zM442 298h1v1h-1zM443 298h1v1h-1zM444 298h1v1h-1zM445 298h1v1h-1zM446 298h1v1h-1zM447 298h1v1h-1zM448 298h1v1h-1zM449 298h1v1h-1zM450 298h1v1h-1zM451 298h1v1h-1zM452 298h1v1h-1zM453 298h1v1h-1zM454 298h1v1h-1zM455 298h1v1h-1zM456 298h1v1h-1zM457 298h1v1h-1zM458 298h1v1h-1zM459 298h1v1h-1zM460 298h1v1h-1zM461 298h1v1h-1zM462 298h1v1h-1zM463 298h1v1h-1zM464 298h1v1h-1zM465 298h1v1h-1zM466 298h1v1h-1zM467 298h1v1h-1zM468 298h1v1h-1zM469 298h1v1h-1zM470 298h1v1h-1zM471 298h1v1h-1zM472 298h1v1h-1zM473 298h1v1h-1zM474 298h1v1h-1zM475 298h1v1h-1zM476 298h1v1h-1zM477 298h1v1h-1zM478 298h1v1h-1zM479 298h1v1h-1zM480 298h1v1h-1zM481 298h1v1h-1zM482 298h1v1h-1zM483 298h1v1h-1zM484 298h1v1h-1zM485 298h1v1h-1zM486 298h1v1h-1zM487 298h1v1h-1zM488 298h1v1h-1zM489 298h1v1h-1zM490 298h1v1h-1zM491 298h1v1h-1zM492 298h1v1h-1zM493 298h1v1h-1zM494 298h1v1h-1zM495 298h1v1h-1zM496 298h1v1h-1zM497 298h1v1h-1zM498 298h1v1h-1zM499 298h1v1h-1zM500 298h1v1h-1zM501 298h1v1h-1zM502 298h1v1h-1zM503 298h1v1h-1zM504 298h1v1h-1zM505 298h1v1h-1zM506 298h1v1h-1zM507 298h1v1h-1zM508 298h1v1h-1zM509 298h1v1h-1zM510 298h1v1h-1zM511 298h1v1h-1zM512 298h1v1h-1zM513 298h1v1h-1zM514 298h1v1h-1zM515 298h1v1h-1zM516 298h1v1h-1zM517 298h1v1h-1zM518 298h1v1h-1zM519 298h1v1h-1zM520 298h1v1h-1zM521 298h1v1h-1zM522 298h1v1h-1zM523 298h1v1h-1zM524 298h1v1h-1zM525 298h1v1h-1zM526 298h1v1h-1zM527 298h1v1h-1zM528 298h1v1h-1zM529 298h1v1h-1zM530 298h1v1h-1zM531 298h1v1h-1zM532 298h1v1h-1zM533 298h1v1h-1zM534 298h1v1h-1zM535 298h1v1h-1zM536 298h1v1h-1zM537 298h1v1h-1zM538 298h1v1h-1zM539 298h1v1h-1zM540 298h1v1h-1zM541 298h1v1h-1zM542 298h1v1h-1zM543 298h1v1h-1zM544 298h1v1h-1zM545 298h1v1h-1zM546 298h1v1h-1zM547 298h1v1h-1zM548 298h1v1h-1zM549 298h1v1h-1zM550 298h1v1h-1zM551 298h1v1h-1zM552 298h1v1h-1zM553 298h1v1h-1zM554 298h1v1h-1zM555 298h1v1h-1zM556 298h1v1h-1zM557 298h1v1h-1zM558 298h1v1h-1zM559 298h1v1h-1zM560 298h1v1h-1zM561 298h1v1h-1zM562 298h1v1h-1zM563 298h1v1h-1zM564 298h1v1h-1zM565 298h1v1h-1zM566 298h1v1h-1zM567 298h1v1h-1zM568 298h1v1h-1zM569 298h1v1h-1zM570 298h1v1h-1zM571 298h1v1h-1zM572 298h1v1h-1zM573 298h1v1h-1zM574 298h1v1h-1zM575 298h1v1h-1zM576 298h1v1h-1zM577 298h1v1h-1zM578 298h1v1h-1zM579 298h1v1h-1zM580 298h1v1h-1zM581 298h1v1h-1zM582 298h1v1h-1zM583 298h1v1h-1zM584 298h1v1h-1zM585 298h1v1h-1zM586 298h1v1h-1zM587 298h1v1h-1zM588 298h1v1h-1zM589 298h1v1h-1zM590 298h1v1h-1zM591 298h1v1h-1zM592 298h1v1h-1zM593 298h1v1h-1zM594 298h1v1h-1zM595 298h1v1h-1zM596 298h1v1h-1zM597 298h1v1h-1zM598 298h1v1h-1zM599 298h1v1h-1zM600 298h1v1h-1zM601 298h1v1h-1zM602 298h1v1h-1zM603 298h1v1h-1zM604 298h1v1h-1zM605 298h1v1h-1zM606 298h1v1h-1zM607 298h1v1h-1zM608 298h1v1h-1zM609 298h1v1h-1zM610 298h1v1h-1zM611 298h1v1h-1zM612 298h1v1h-1zM613 298h1v1h-1zM614 298h1v1h-1zM615 298h1v1h-1zM616 298h1v1h-1zM617 298h1v1h-1zM618 298h1v1h-1zM619 298h1v1h-1zM620 298h1v1h-1zM621 297h1v2h-1zM622 297h1v1h-1zM623 298h1v1h-1zM624 298h1v1h-1zM625 298h1v1h-1zM626 298h1v1h-1zM627 298h1v1h-1zM628 298h1v1h-1zM629 297h1v2h-1zM630 296h1v2h-1zM631 292h1v5h-1zM632 280h1v13h-1zM633 261h1v20h-1zM634 259h1v3h-1zM635 260h1v3h-1zM636 263h1v12h-1zM637 275h1v9h-1zM638 284h1v1h-1zM639 285h1v5h-1zM640 290h1v6h-1zM641 296h1v3h-1zM642 298h1v1h-1zM643 298h1v1h-1zM644 298h1v1h-1zM645 298h1v1h-1zM646 298h1v1h-1zM647 298h1v1h-1zM648 298h1v1h-1zM649 298h1v1h-1zM650 298h1v1h-1zM651 298h1v1h-1zM652 298h1v1h-1zM653 298h1v1h-1zM654 298h1v1h-1zM655 298h1v1h-1zM656 298h1v1h-1zM657 298h1v1h-1zM658 298h1v1h-1zM659 298h1v1h-1zM660 298h1v1h-1zM661 298h1v1h-1zM662 298h1v1h-1zM663 298h1v1h-1zM664 298h1v1h-1zM665 298h1v1h-1zM666 298h1v1h-1zM667 298h1v1h-1zM668 298h1v1h-1zM669 298h1v1h-1zM670 298h1v1h-1zM671 298h1v1h-1zM672 298h1v1h-1zM673 298h1v1h-1zM674 298h1v1h-1zM675 298h1v1h-1zM676 298h1v1h-1zM677 298h1v1h-1zM678 298h1v1h-1zM679 298h1v1h-1zM680 298h1v1h-1zM681 298h1v1h-1zM682 298h1v1h-1zM683 298h1v1h-1zM684 298h1v1h-1zM685 298h1v1h-1zM686 298h1v1h-1zM687 298h1v1h-1zM688 298h1v1h-1zM689 298h1v1h-1zM690 298h1v1h-1zM691 298h1v1h-1zM692 298h1v1h-1zM693 298h1v1h-1zM694 298h1v1h-1zM695 298h1v1h-1zM696 298h1v1h-1zM697 298h1v1h-1zM698 298h1v1h-1zM699 298h1v1h-1zM700 298h1v1h-1zM701 298h1v1h-1zM702 298h1v1h-1zM703 298h1v1h-1zM704 298h1v1h-1zM705 298h1v1h-1zM706 298h1v1h-1zM707 298h1v1h-1zM708 298h1v1h-1zM709 298h1v1h-1zM710 298h1v1h-1zM711 298h1v1h-1zM712 298h1v1h-1zM713 298h1v1h-1zM714 298h1v1h-1zM715 298h1v1h-1zM716 298h1v1h-1zM717 298h1v1h-1zM718 298h1v1h-1zM719 298h1v1h-1zM720 298h1v1h-1zM721 298h1v1h-1zM722 298h1v1h-1zM723 298h1v1h-1zM724 298h1v1h-1zM725 298h1v1h-1zM726 298h1v1h-1zM727 298h1v1h-1zM728 298h1v1h-1zM729 298h1v1h-1zM730 298h1v1h-1zM731 298h1v1h-1zM732 298h1v1h-1zM733 298h1v1h-1zM734 298h1v1h-1zM735 298h1v1h-1zM736 298h1v1h-1zM737 298h1v1h-1zM738 298h1v1h-1zM739 298h1v1h-1zM740 298h1v1h-1zM741 298h1v1h-1zM742 298h1v1h-1zM743 298h1v1h-1zM744 298h1v1h-1zM745 298h1v1h-1zM746 298h1v1h-1zM747 298h1v1h-1zM748 298h1v1h-1zM749 298h1v1h-1zM750 298h1v1h-1zM751 298h1v1h-1zM752 298h1v1h-1zM753 298h1v1h-1zM754 298h1v1h-1zM755 298h1v1h-1zM756 298h1v1h-1zM757 298h1v1h-1zM758 298h1v1h-1zM759 298h1v1h-1zM760 298h1v1h-1zM761 298h1v1h-1zM762 298h1v1h-1zM763 298h1v1h-1zM764 298h1v1h-1zM765 298h1v1h-1zM766 298h1v1h-1zM767 298h1v1h-1zM768 298h1v1h-1zM769 298h1v1h-1zM770 298h1v1h-1zM771 298h1v1h-1zM772 298h1v1h-1zM773 298h1v1h-1zM774 298h1v1h-1zM775 298h1v1h-1zM776 298h1v1h-1zM777 298h1v1h-1zM778 298h1v1h-1zM779 298h1v1h-1zM780 298h1v1h-1zM781 298h1v1h-1zM782 298h1v1h-1zM783 298h1v1h-1zM784 298h1v1h-1zM785 298h1v1h-1zM786 298h1v1h-1zM787 298h1v1h-1zM788 298h1v1h-1zM789 298h1v1h-1zM790 298h1v1h-1zM791 298h1v1h-1zM792 298h1v1h-1zM793 298h1v1h-1zM794 298h1v1h-1zM795 298h1v1h-1zM796 298h1v1h-1zM797 298h1v1h-1zM798 298h1v1h-1zM799 298h1v1h-1zM800 298h1v1h-1zM801 298h1v1h-1zM802 298h1v1h-1zM803 298h1v1h-1zM804 298h1v1h-1zM805 298h1v1h-1zM806 298h1v1h-1zM807 298h1v1h-1zM808 298h1v1h-1zM809 298h1v1h-1zM810 298h1v1h-1zM811 298h1v1h-1zM812 298h1v1h-1zM813 298h1v1h-1zM814 298h1v1h-1zM815 298h1v1h-1zM816 298h1v1h-1zM817 298h1v1h-1zM818 298h1v1h-1zM819 298h1v1h-1zM820 298h1v1h-1zM821 298h1v1h-1zM822 298h1v1h-1zM823 298h1v1h-1zM824 298h1v1h-1zM825 298h1v1h-1zM826 298h1v1h-1zM827 298h1v1h-1zM828 298h1v1h-1zM829 298h1v1h-1zM830 298h1v1h-1zM831 298h1v1h-1zM832 298h1v1h-1zM833 298h1v1h-1zM834 298h1v1h-1zM835 298h1v1h-1zM836 298h1v1h-1zM837 298h1v1h-1zM838 298h1v1h-1zM839 298h1v1h-1zM840 298h1v1h-1zM841 298h1v1h-1zM842 298h1v1h-1zM843 298h1v1h-1zM844 298h1v1h-1zM845 298h1v1h-1zM846 298h1v1h-1zM847 298h1v1h-1zM848 298h1v1h-1zM849 298h1v1h-1zM850 298h1v1h-1zM851 298h1v1h-1zM852 298h1v1h-1zM853 298h1v1h-1zM854 298h1v1h-1zM855 298h1v1h-1zM856 298h1v1h-1zM857 298h1v1h-1zM858 298h1v1h-1zM859 298h1v1h-1zM860 298h1v1h-1zM861 298h1v1h-1zM862 298h1v1h-1zM863 298h1v1h-1zM864 298h1v1h-1zM865 298h1v1h-1zM866 298h1v1h-1zM867 298h1v1h-1zM868 298h1v1h-1zM869 298h1v1h-1zM870 298h1v1h-1zM871 298h1v1h-1zM872 298h1v1h-1zM873 298h1v1h-1zM874 298h1v1h-1zM875 298h1v1h-1zM876 298h1v1h-1zM877 298h1v1h-1zM878 298h1v1h-1zM879 298h1v1h-1zM880 298h1v1h-1zM881 298h1v1h-1zM882 298h1v1h-1zM883 298h1v1h-1zM884 298h1v1h-1zM885 298h1v1h-1zM886 298h1v1h-1zM887 298h1v1h-1zM888 298h1v1h-1zM889 298h1v1h-1zM890 298h1v1h-1zM891 298h1v1h-1zM892 298h1v1h-1zM893 298h1v1h-1zM894 298h1v1h-1zM895 298h1v1h-1zM896 298h1v1h-1zM897 298h1v1h-1zM898 298h1v1h-1zM899 298h1v1h-1zM900 298h1v1h-1zM901 298h1v1h-1zM902 298h1v1h-1zM903 298h1v1h-1zM904 298h1v1h-1zM905 298h1v1h-1zM906 298h1v1h-1zM907 298h1v1h-1zM908 298h1v1h-1zM909 298h1v1h-1zM910 298h1v1h-1zM911 298h1v1h-1zM912 298h1v1h-1zM913 298h1v1h-1zM914 298h1v1h-1zM915 298h1v1h-1zM916 298h1v1h-1zM917 298h1v1h-1zM918 298h1v1h-1zM919 298h1v1h-1zM920 298h1v1h-1zM921 298h1v1h-1zM922 298h1v1h-1zM923 298h1v1h-1zM924 298h1v1h-1zM925 298h1v1h-1zM926 298h1v1h-1zM927 298h1v1h-1zM928 298h1v1h-1zM929 298h1v1h-1zM930 298h1v1h-1zM931 298h1v1h-1zM932 298h1v1h-1zM933 298h1v1h-1zM934 298h1v1h-1zM935 298h1v1h-1zM936 298h1v1h-1zM937 298h1v1h-1zM938 298h1v1h-1zM939 298h1v1h-1z" fill="#00b400"/>
<rect x="204" y="300" width="1" height="3" fill="#00b400"/>
<rect x="189" y="303" width="32" height="14" fill="#00b400"/>
<rect x="190" y="304" width="30" height="12" fill="#fff"/>
<rect x="381" y="300" width="1" height="3" fill="#00b400"/>
<rect x="366" y="303" width="32" height="14" fill="#00b400"/>
<rect x="367" y="304" width="30" height="12" fill="#fff"/>
<rect x="406" y="300" width="1" height="20" fill="#00b400"/>
<rect x="391" y="320" width="32" height="14" fill="#00b400"/>
<rect x="392" y="321" width="30" height="12" fill="#fff"/>
<rect x="634" y="300" width="1" height="3" fill="#00b400"/>
<rect x="619" y="303" width="32" height="14" fill="#00b400"/>
<rect x="620" y="304" width="30" height="12" fill="#fff"/>
<rect x="351" y="349" width="604" height="22" fill="#ece9d8"/>
<rect x="0" y="349" width="128" height="21" fill="#ece9d8"/>
<rect x="0" y="349" width="128" height="1" fill="#aca899"/>
<rect x="129" y="349" width="119" height="21" fill="#ece9d8"/>
<rect x="129" y="349" width="119" height="1" fill="#aca899"/>
<rect x="129" y="349" width="1" height="21" fill="#aca899"/>
<rect x="249" y="349" width="31" height="21" fill="#ece9d8"/>
<rect x="249" y="349" width="31" height="1" fill="#aca899"/>
<rect x="249" y="349" width="1" height="21" fill="#aca899"/>
<rect x="281" y="349" width="35" height="22" fill="#c8c8c8"/>
<rect x="281" y="349" width="34" height="21" fill="#808080"/>
<rect x="282" y="350" width="33" height="20" fill="#ffffff"/>
<rect x="316" y="349" width="35" height="22" fill="#c8c8c8"/>
<rect x="316" y="349" width="34" height="21" fill="#808080"/>
<rect x="317" y="350" width="33" height="20" fill="#ffffff"/>
<rect x="285" y="353" width="14" height="14" fill="#00dc00"/>
<rect x="320" y="353" width="14" height="14" fill="#00dc00"/>
<rect x="168" y="373" width="105" height="13" fill="#1e1e1e"/>
<rect x="169" y="374" width="103" height="11" fill="#c8c8c8"/>
<rect x="501" y="373" width="84" height="13" fill="#1e1e1e"/>
<rect x="502" y="374" width="82" height="11" fill="#c8c8c8"/>
<rect x="751" y="373" width="167" height="13" fill="#1e1e1e"/>
<rect x="752" y="374" width="165" height="11" fill="#c8c8c8"/>
<rect x="42" y="405" width="898" height="1" fill="#000"/>
<rect x="42" y="405" width="1" height="95" fill="#000"/>
<rect x="939" y="405" width="1" height="95" fill="#000"/>
<rect x="42" y="499" width="898" height="1" fill="#000"/>
<rect x="43" y="403" width="1" height="5" fill="#000"/>
<rect x="64" y="403" width="1" height="5" fill="#000"/>
<rect x="85" y="403" width="1" height="5" fill="#000"/>
<rect x="106" y="403" width="1" height="5" fill="#000"/>
<rect x="126" y="403" width="1" height="5" fill="#000"/>
<rect x="147" y="403" width="1" height="5" fill="#000"/>
<rect x="168" y="403" width="1" height="5" fill="#000"/>
<rect x="189" y="403" width="1" height="5" fill="#000"/>
<rect x="210" y="403" width="1" height="5" fill="#000"/>
<rect x="230" y="403" width="1" height="5" fill="#000"/>
<rect x="251" y="403" width="1" height="5" fill="#000"/>
<rect x="272" y="403" width="1" height="5" fill="#000"/>
<rect x="293" y="403" width="1" height="5" fill="#000"/>
<rect x="314" y="403" width="1" height="5" fill="#000"/>
<rect x="334" y="403" width="1" height="5" fill="#000"/>
<rect x="355" y="403" width="1" height="5" fill="#000"/>
<rect x="376" y="403" width="1" height="5" fill="#000"/>
<rect x="397" y="403" width="1" height="5" fill="#000"/>
<rect x="418" y="403" width="1" height="5" fill="#000"/>
<rect x="439" y="403" width="1" height="5" fill="#000"/>
<rect x="459" y="403" width="1" height="5" fill="#000"/>
<rect x="480" y="403" width="1" height="5" fill="#000"/>
<rect x="501" y="403" width="1" height="5" fill="#000"/>
<rect x="522" y="403" width="1" height="5" fill="#000"/>
<rect x="543" y="403" width="1" height="5" fill="#000"/>
<rect x="563" y="403" width="1" height="5" fill="#000"/>
<rect x="584" y="403" width="1" height="5" fill="#000"/>
<rect x="605" y="403" width="1" height="5" fill="#000"/>
<rect x="626" y="403" width="1" height="5" fill="#000"/>
<rect x="647" y="403" width="1" height="5" fill="#000"/>
<rect x="667" y="403" width="1" height="5" fill="#000"/>
<rect x="688" y="403" width="1" height="5" fill="#000"/>
<rect x="709" y="403" width="1" height="5" fill="#000"/>
<rect x="730" y="403" width="1" height="5" fill="#000"/>
<rect x="751" y="403" width="1" height="5" fill="#000"/>
<rect x="772" y="403" width="1" height="5" fill="#000"/>
<rect x="792" y="403" width="1" height="5" fill="#000"/>
<rect x="813" y="403" width="1" height="5" fill="#000"/>
<rect x="834" y="403" width="1" height="5" fill="#000"/>
<rect x="855" y="403" width="1" height="5" fill="#000"/>
<rect x="876" y="403" width="1" height="5" fill="#000"/>
<rect x="896" y="403" width="1" height="5" fill="#000"/>
<rect x="917" y="403" width="1" height="5" fill="#000"/>
<rect x="938" y="403" width="1" height="5" fill="#000"/>
<rect x="40" y="498" width="5" height="1" fill="#000"/>
<rect x="40" y="477" width="5" height="1" fill="#000"/>
<rect x="40" y="457" width="5" height="1" fill="#000"/>
<rect x="40" y="436" width="5" height="1" fill="#000"/>
<rect x="40" y="416" width="5" height="1" fill="#000"/>
<path d="M43 498h1v1h-1zM44 498h1v1h-1zM45 498h1v1h-1zM46 498h1v1h-1zM47 498h1v1h-1zM48 498h1v1h-1zM49 498h1v1h-1zM50 498h1v1h-1zM51 498h1v1h-1zM52 498h1v1h-1zM53 498h1v1h-1zM54 498h1v1h-1zM55 498h1v1h-1zM56 498h1v1h-1zM57 498h1v1h-1zM58 498h1v1h-1zM59 498h1v1h-1zM60 498h1v1h-1zM61 498h1v1h-1zM62 498h1v1h-1zM63 498h1v1h-1zM64 498h1v1h-1zM65 498h1v1h-1zM66 498h1v1h-1zM67 498h1v1h-1zM68 498h1v1h-1zM69 498h1v1h-1zM70 498h1v1h-1zM71 498h1v1h-1zM72 498h1v1h-1zM73 498h1v1h-1zM74 498h1v1h-1zM75 498h1v1h-1zM76 498h1v1h-1zM77 498h1v1h-1zM78 498h1v1h-1zM79 498h1v1h-1zM80 498h1v1h-1zM81 498h1v1h-1zM82 498h1v1h-1zM83 498h1v1h-1zM84 498h1v1h-1zM85 498h1v1h-1zM86 498h1v1h-1zM87 498h1v1h-1zM88 498h1v1h-1zM89 498h1v1h-1zM90 498h1v1h-1zM91 498h1v1h-1zM92 498h1v1h-1zM93 498h1v1h-1zM94 498h1v1h-1zM95 498h1v1h-1zM96 498h1v1h-1zM97 498h1v1h-1zM98 498h1v1h-1zM99 498h1v1h-1zM100 498h1v1h-1zM101 498h1v1h-1zM102 498h1v1h-1zM103 498h1v1h-1zM104 498h1v1h-1zM105 498h1v1h-1zM106 498h1v1h-1zM107 498h1v1h-1zM108 498h1v1h-1zM109 498h1v1h-1zM110 498h1v1h-1zM111 498h1v1h-1zM112 498h1v1h-1zM113 498h1v1h-1zM114 498h1v1h-1zM115 498h1v1h-1zM116 498h1v1h-1zM117 498h1v1h-1zM118 498h1v1h-1zM119 498h1v1h-1zM120 498h1v1h-1zM121 498h1v1h-1zM122 498h1v1h-1zM123 498h1v1h-1zM124 498h1v1h-1zM125 498h1v1h-1zM126 498h1v1h-1zM127 498h1v1h-1zM128 498h1v1h-1zM129 498h1v1h-1zM130 498h1v1h-1zM131 498h1v1h-1zM132 498h1v1h-1zM133 498h1v1h-1zM134 498h1v1h-1zM135 498h1v1h-1zM136 498h1v1h-1zM137 498h1v1h-1zM138 498h1v1h-1zM139 498h1v1h-1zM140 498h1v1h-1zM141 498h1v1h-1zM142 498h1v1h-1zM143 498h1v1h-1zM144 498h1v1h-1zM145 498h1v1h-1zM146 498h1v1h-1zM147 498h1v1h-1zM148 498h1v1h-1zM149 498h1v1h-1zM150 498h1v1h-1zM151 498h1v1h-1zM152 498h1v1h-1zM153 498h1v1h-1zM154 498h1v1h-1zM155 498h1v1h-1zM156 498h1v1h-1zM157 498h1v1h-1zM158 498h1v1h-1zM159 498h1v1h-1zM160 498h1v1h-1zM161 498h1v1h-1zM162 498h1v1h-1zM163 498h1v1h-1zM164 498h1v1h-1zM165 498h1v1h-1zM166 498h1v1h-1zM167 498h1v1h-1zM168 498h1v1h-1zM169 498h1v1h-1zM170 498h1v1h-1zM171 498h1v1h-1zM172 498h1v1h-1zM173 498h1v1h-1zM174 498h1v1h-1zM175 498h1v1h-1zM176 498h1v1h-1zM177 498h1v1h-1zM178 498h1v1h-1zM179 498h1v1h-1zM180 498h1v1h-1zM181 498h1v1h-1zM182 498h1v1h-1zM183 498h1v1h-1zM184 498h1v1h-1zM185 498h1v1h-1zM186 498h1v1h-1zM187 498h1v1h-1zM188 498h1v1h-1zM189 498h1v1h-1zM190 498h1v1h-1zM191 498h1v1h-1zM192 498h1v1h-1zM193 498h1v1h-1zM194 498h1v1h-1zM195 498h1v1h-1zM196 498h1v1h-1zM197 498h1v1h-1zM198 498h1v1h-1zM199 498h1v1h-1zM200 498h1v1h-1zM201 498h1v1h-1zM202 498h1v1h-1zM203 498h1v1h-1zM204 498h1v1h-1zM205 498h1v1h-1zM206 498h1v1h-1zM207 498h1v1h-1zM208 498h1v1h-1zM209 498h1v1h-1zM210 498h1v1h-1zM211 498h1v1h-1zM212 498h1v1h-1zM213 498h1v1h-1zM214 498h1v1h-1zM215 498h1v1h-1zM216 498h1v1h-1zM217 498h1v1h-1zM218 498h1v1h-1zM219 498h1v1h-1zM220 498h1v1h-1zM221 498h1v1h-1zM222 498h1v1h-1zM223 498h1v1h-1zM224 498h1v1h-1zM225 498h1v1h-1zM226 498h1v1h-1zM227 498h1v1h-1zM228 498h1v1h-1zM229 498h1v1h-1zM230 498h1v1h-1zM231 498h1v1h-1zM232 498h1v1h-1zM233 498h1v1h-1zM234 494h1v5h-1zM235 488h1v7h-1zM236 489h1v1h-1zM237 490h1v4h-1zM238 486h1v8h-1zM239 480h1v7h-1zM240 478h1v3h-1zM241 479h1v1h-1zM242 446h1v34h-1zM243 413h1v34h-1zM244 405h1v9h-1zM245 406h1v35h-1zM246 441h1v43h-1zM247 484h1v10h-1zM248 494h1v4h-1zM249 498h1v1h-1zM250 498h1v1h-1zM251 498h1v1h-1zM252 498h1v1h-1zM253 497h1v2h-1zM254 497h1v1h-1zM255 497h1v1h-1zM256 498h1v1h-1zM257 498h1v1h-1zM258 498h1v1h-1zM259 498h1v1h-1zM260 498h1v1h-1zM261 498h1v1h-1zM262 498h1v1h-1zM263 498h1v1h-1zM264 498h1v1h-1zM265 498h1v1h-1zM266 498h1v1h-1zM267 498h1v1h-1zM268 498h1v1h-1zM269 498h1v1h-1zM270 498h1v1h-1zM271 498h1v1h-1zM272 498h1v1h-1zM273 498h1v1h-1zM274 498h1v1h-1zM275 498h1v1h-1zM276 498h1v1h-1zM277 498h1v1h-1zM278 498h1v1h-1zM279 498h1v1h-1zM280 498h1v1h-1zM281 498h1v1h-1zM282 498h1v1h-1zM283 498h1v1h-1zM284 498h1v1h-1zM285 498h1v1h-1zM286 498h1v1h-1zM287 498h1v1h-1zM288 498h1v1h-1zM289 498h1v1h-1zM290 498h1v1h-1zM291 498h1v1h-1zM292 498h1v1h-1zM293 498h1v1h-1zM294 498h1v1h-1zM295 498h1v1h-1zM296 498h1v1h-1zM297 498h1v1h-1zM298 498h1v1h-1zM299 498h1v1h-1zM300 498h1v1h-1zM301 498h1v1h-1zM302 498h1v1h-1zM303 498h1v1h-1zM304 498h1v1h-1zM305 498h1v1h-1zM306 498h1v1h-1zM307 498h1v1h-1zM308 498h1v1h-1zM309 498h1v1h-1zM310 498h1v1h-1zM311 498h1v1h-1zM312 498h1v1h-1zM313 498h1v1h-1zM314 498h1v1h-1zM315 498h1v1h-1zM316 498h1v1h-1zM317 498h1v1h-1zM318 498h1v1h-1zM319 498h1v1h-1zM320 498h1v1h-1zM321 498h1v1h-1zM322 498h1v1h-1zM323 498h1v1h-1zM324 498h1v1h-1zM325 498h1v1h-1zM326 498h1v1h-1zM327 498h1v1h-1zM328 498h1v1h-1zM329 498h1v1h-1zM330 498h1v1h-1zM331 498h1v1h-1zM332 498h1v1h-1zM333 498h1v1h-1zM334 498h1v1h-1zM335 498h1v1h-1zM336 498h1v1h-1zM337 498h1v1h-1zM338 498h1v1h-1zM339 498h1v1h-1zM340 498h1v1h-1zM341 498h1v1h-1zM342 498h1v1h-1zM343 498h1v1h-1zM344 498h1v1h-1zM345 498h1v1h-1zM346 498h1v1h-1zM347 498h1v1h-1zM348 498h1v1h-1zM349 498h1v1h-1zM350 498h1v1h-1zM351 498h1v1h-1zM352 498h1v1h-1zM353 498h1v1h-1zM354 498h1v1h-1zM355 498h1v1h-1zM356 498h1v1h-1zM357 498h1v1h-1zM358 498h1v1h-1zM359 498h1v1h-1zM360 498h1v1h-1zM361 498h1v1h-1zM362 498h1v1h-1zM363 498h1v1h-1zM364 498h1v1h-1zM365 498h1v1h-1zM366 498h1v1h-1zM367 498h1v1h-1zM368 498h1v1h-1zM369 498h1v1h-1zM370 498h1v1h-1zM371 498h1v1h-1zM372 498h1v1h-1zM373 498h1v1h-1zM374 498h1v1h-1zM375 498h1v1h-1zM376 498h1v1h-1zM377 498h1v1h-1zM378 498h1v1h-1zM379 498h1v1h-1zM380 498h1v1h-1zM381 498h1v1h-1zM382 498h1v1h-1zM383 498h1v1h-1zM384 498h1v1h-1zM385 498h1v1h-1zM386 498h1v1h-1zM387 498h1v1h-1zM388 498h1v1h-1zM389 498h1v1h-1zM390 498h1v1h-1zM391 498h1v1h-1zM392 498h1v1h-1zM393 498h1v1h-1zM394 498h1v1h-1zM395 498h1v1h-1zM396 498h1v1h-1zM397 498h1v1h-1zM398 498h1v1h-1zM399 498h1v1h-1zM400 498h1v1h-1zM401 498h1v1h-1zM402 498h1v1h-1zM403 498h1v1h-1zM404 498h1v1h-1zM405 498h1v1h-1zM406 498h1v1h-1zM407 498h1v1h-1zM408 498h1v1h-1zM409 498h1v1h-1zM410 498h1v1h-1zM411 498h1v1h-1zM412 498h1v1h-1zM413 498h1v1h-1zM414 498h1v1h-1zM415 498h1v1h-1zM416 498h1v1h-1zM417 498h1v1h-1zM418 498h1v1h-1zM419 498h1v1h-1zM420 498h1v1h-1zM421 498h1v1h-1zM422 498h1v1h-1zM423 498h1v1h-1zM424 498h1v1h-1zM425 498h1v1h-1zM426 498h1v1h-1zM427 498h1v1h-1zM428 498h1v1h-1zM429 498h1v1h-1zM430 498h1v1h-1zM431 498h1v1h-1zM432 498h1v1h-1zM433 498h1v1h-1zM434 498h1v1h-1zM435 498h1v1h-1zM436 498h1v1h-1zM437 498h1v1h-1zM438 498h1v1h-1zM439 498h1v1h-1zM440 498h1v1h-1zM441 498h1v1h-1zM442 498h1v1h-1zM443 498h1v1h-1zM444 498h1v1h-1zM445 498h1v1h-1zM446 498h1v1h-1zM447 498h1v1h-1zM448 498h1v1h-1zM449 498h1v1h-1zM450 498h1v1h-1zM451 498h1v1h-1zM452 498h1v1h-1zM453 498h1v1h-1zM454 498h1v1h-1zM455 498h1v1h-1zM456 498h1v1h-1zM457 498h1v1h-1zM458 498h1v1h-1zM459 498h1v1h-1zM460 498h1v1h-1zM461 498h1v1h-1zM462 498h1v1h-1zM463 498h1v1h-1zM464 498h1v1h-1zM465 498h1v1h-1zM466 498h1v1h-1zM467 498h1v1h-1zM468 498h1v1h-1zM469 498h1v1h-1zM470 498h1v1h-1zM471 498h1v1h-1zM472 498h1v1h-1zM473 498h1v1h-1zM474 498h1v1h-1zM475 498h1v1h-1zM476 498h1v1h-1zM477 498h1v1h-1zM478 498h1v1h-1zM479 498h1v1h-1zM480 498h1v1h-1zM481 498h1v1h-1zM482 498h1v1h-1zM483 498h1v1h-1zM484 498h1v1h-1zM485 498h1v1h-1zM486 498h1v1h-1zM487 498h1v1h-1zM488 498h1v1h-1zM489 498h1v1h-1zM490 498h1v1h-1zM491 498h1v1h-1zM492 498h1v1h-1zM493 498h1v1h-1zM494 498h1v1h-1zM495 498h1v1h-1zM496 498h1v1h-1zM497 498h1v1h-1zM498 498h1v1h-1zM499 498h1v1h-1zM500 498h1v1h-1zM501 498h1v1h-1zM502 498h1v1h-1zM503 498h1v1h-1zM504 498h1v1h-1zM505 498h1v1h-1zM506 498h1v1h-1zM507 498h1v1h-1zM508 498h1v1h-1zM509 498h1v1h-1zM510 498h1v1h-1zM511 498h1v1h-1zM512 498h1v1h-1zM513 498h1v1h-1zM514 498h1v1h-1zM515 498h1v1h-1zM516 498h1v1h-1zM517 498h1v1h-1zM518 498h1v1h-1zM519 498h1v1h-1zM520 498h1v1h-1zM521 498h1v1h-1zM522 498h1v1h-1zM523 498h1v1h-1zM524 498h1v1h-1zM525 498h1v1h-1zM526 497h1v2h-1zM527 497h1v1h-1zM528 497h1v1h-1zM529 498h1v1h-1zM530 498h1v1h-1zM531 498h1v1h-1zM532 496h1v3h-1zM533 494h1v3h-1zM534 490h1v5h-1zM535 487h1v4h-1zM536 488h1v1h-1zM537 489h1v6h-1zM538 495h1v1h-1zM539 495h1v1h-1zM540 494h1v2h-1zM541 481h1v14h-1zM542 462h1v20h-1zM543 448h1v15h-1zM544 443h1v6h-1zM545 444h1v33h-1zM546 477h1v13h-1zM547 490h1v7h-1zM548 497h1v1h-1zM549 498h1v1h-1zM550 498h1v1h-1zM551 497h1v2h-1zM552 497h1v1h-1zM553 497h1v1h-1zM554 498h1v1h-1zM555 498h1v1h-1zM556 498h1v1h-1zM557 498h1v1h-1zM558 498h1v1h-1zM559 498h1v1h-1zM560 498h1v1h-1zM561 498h1v1h-1zM562 498h1v1h-1zM563 498h1v1h-1zM564 498h1v1h-1zM565 498h1v1h-1zM566 498h1v1h-1zM567 498h1v1h-1zM568 498h1v1h-1zM569 498h1v1h-1zM570 498h1v1h-1zM571 498h1v1h-1zM572 498h1v1h-1zM573 498h1v1h-1zM574 498h1v1h-1zM575 498h1v1h-1zM576 498h1v1h-1zM577 498h1v1h-1zM578 498h1v1h-1zM579 498h1v1h-1zM580 498h1v1h-1zM581 498h1v1h-1zM582 498h1v1h-1zM583 498h1v1h-1zM584 498h1v1h-1zM585 498h1v1h-1zM586 498h1v1h-1zM587 498h1v1h-1zM588 498h1v1h-1zM589 498h1v1h-1zM590 498h1v1h-1zM591 498h1v1h-1zM592 498h1v1h-1zM593 498h1v1h-1zM594 498h1v1h-1zM595 498h1v1h-1zM596 498h1v1h-1zM597 498h1v1h-1zM598 498h1v1h-1zM599 498h1v1h-1zM600 498h1v1h-1zM601 498h1v1h-1zM602 498h1v1h-1zM603 498h1v1h-1zM604 498h1v1h-1zM605 498h1v1h-1zM606 498h1v1h-1zM607 498h1v1h-1zM608 498h1v1h-1zM609 498h1v1h-1zM610 498h1v1h-1zM611 498h1v1h-1zM612 498h1v1h-1zM613 498h1v1h-1zM614 498h1v1h-1zM615 498h1v1h-1zM616 498h1v1h-1zM617 498h1v1h-1zM618 498h1v1h-1zM619 498h1v1h-1zM620 498h1v1h-1zM621 498h1v1h-1zM622 498h1v1h-1zM623 498h1v1h-1zM624 498h1v1h-1zM625 498h1v1h-1zM626 498h1v1h-1zM627 498h1v1h-1zM628 498h1v1h-1zM629 498h1v1h-1zM630 498h1v1h-1zM631 498h1v1h-1zM632 498h1v1h-1zM633 498h1v1h-1zM634 498h1v1h-1zM635 498h1v1h-1zM636 498h1v1h-1zM637 498h1v1h-1zM638 498h1v1h-1zM639 498h1v1h-1zM640 498h1v1h-1zM641 498h1v1h-1zM642 498h1v1h-1zM643 498h1v1h-1zM644 498h1v1h-1zM645 498h1v1h-1zM646 498h1v1h-1zM647 498h1v1h-1zM648 498h1v1h-1zM649 498h1v1h-1zM650 498h1v1h-1zM651 498h1v1h-1zM652 498h1v1h-1zM653 498h1v1h-1zM654 498h1v1h-1zM655 498h1v1h-1zM656 498h1v1h-1zM657 498h1v1h-1zM658 498h1v1h-1zM659 498h1v1h-1zM660 498h1v1h-1zM661 498h1v1h-1zM662 498h1v1h-1zM663 498h1v1h-1zM664 498h1v1h-1zM665 498h1v1h-1zM666 498h1v1h-1zM667 498h1v1h-1zM668 498h1v1h-1zM669 498h1v1h-1zM670 498h1v1h-1zM671 498h1v1h-1zM672 498h1v1h-1zM673 498h1v1h-1zM674 498h1v1h-1zM675 498h1v1h-1zM676 498h1v1h-1zM677 498h1v1h-1zM678 498h1v1h-1zM679 498h1v1h-1zM680 498h1v1h-1zM681 498h1v1h-1zM682 498h1v1h-1zM683 498h1v1h-1zM684 498h1v1h-1zM685 498h1v1h-1zM686 498h1v1h-1zM687 498h1v1h-1zM688 498h1v1h-1zM689 498h1v1h-1zM690 498h1v1h-1zM691 498h1v1h-1zM692 498h1v1h-1zM693 498h1v1h-1zM694 498h1v1h-1zM695 498h1v1h-1zM696 498h1v1h-1zM697 498h1v1h-1zM698 498h1v1h-1zM699 498h1v1h-1zM700 498h1v1h-1zM701 498h1v1h-1zM702 498h1v1h-1zM703 498h1v1h-1zM704 498h1v1h-1zM705 498h1v1h-1zM706 498h1v1h-1zM707 498h1v1h-1zM708 498h1v1h-1zM709 498h1v1h-1zM710 498h1v1h-1zM711 498h1v1h-1zM712 498h1v1h-1zM713 498h1v1h-1zM714 498h1v1h-1zM715 498h1v1h-1zM716 498h1v1h-1zM717 498h1v1h-1zM718 498h1v1h-1zM719 498h1v1h-1zM720 498h1v1h-1zM721 498h1v1h-1zM722 498h1v1h-1zM723 498h1v1h-1zM724 498h1v1h-1zM725 498h1v1h-1zM726 498h1v1h-1zM727 498h1v1h-1zM728 498h1v1h-1zM729 498h1v1h-1zM730 498h1v1h-1zM731 498h1v1h-1zM732 498h1v1h-1zM733 498h1v1h-1zM734 498h1v1h-1zM735 498h1v1h-1zM736 498h1v1h-1zM737 498h1v1h-1zM738 498h1v1h-1zM739 498h1v1h-1zM740 498h1v1h-1zM741 498h1v1h-1zM742 498h1v1h-1zM743 498h1v1h-1zM744 498h1v1h-1zM745 498h1v1h-1zM746 498h1v1h-1zM747 498h1v1h-1zM748 498h1v1h-1zM749 498h1v1h-1zM750 498h1v1h-1zM751 498h1v1h-1zM752 498h1v1h-1zM753 498h1v1h-1zM754 498h1v1h-1zM755 498h1v1h-1zM756 498h1v1h-1zM757 498h1v1h-1zM758 498h1v1h-1zM759 498h1v1h-1zM760 498h1v1h-1zM761 498h1v1h-1zM762 498h1v1h-1zM763 498h1v1h-1zM764 498h1v1h-1zM765 498h1v1h-1zM766 498h1v1h-1zM767 498h1v1h-1zM768 498h1v1h-1zM769 498h1v1h-1zM770 498h1v1h-1zM771 498h1v1h-1zM772 498h1v1h-1zM773 498h1v1h-1zM774 498h1v1h-1zM775 498h1v1h-1zM776 498h1v1h-1zM777 498h1v1h-1zM778 498h1v1h-1zM779 498h1v1h-1zM780 498h1v1h-1zM781 498h1v1h-1zM782 498h1v1h-1zM783 498h1v1h-1zM784 498h1v1h-1zM785 498h1v1h-1zM786 498h1v1h-1zM787 498h1v1h-1zM788 498h1v1h-1zM789 498h1v1h-1zM790 498h1v1h-1zM791 498h1v1h-1zM792 497h1v2h-1zM793 494h1v4h-1zM794 491h1v4h-1zM795 488h1v4h-1zM796 486h1v3h-1zM797 486h1v1h-1zM798 487h1v1h-1zM799 479h1v9h-1zM800 463h1v17h-1zM801 461h1v3h-1zM802 462h1v3h-1zM803 465h1v10h-1zM804 475h1v16h-1zM805 491h1v4h-1zM806 495h1v3h-1zM807 498h1v1h-1zM808 498h1v1h-1zM809 498h1v1h-1zM810 498h1v1h-1zM811 498h1v1h-1zM812 498h1v1h-1zM813 498h1v1h-1zM814 498h1v1h-1zM815 498h1v1h-1zM816 498h1v1h-1zM817 498h1v1h-1zM818 498h1v1h-1zM819 498h1v1h-1zM820 498h1v1h-1zM821 498h1v1h-1zM822 498h1v1h-1zM823 498h1v1h-1zM824 498h1v1h-1zM825 498h1v1h-1zM826 498h1v1h-1zM827 498h1v1h-1zM828 498h1v1h-1zM829 498h1v1h-1zM830 498h1v1h-1zM831 498h1v1h-1zM832 498h1v1h-1zM833 498h1v1h-1zM834 498h1v1h-1zM835 498h1v1h-1zM836 498h1v1h-1zM837 498h1v1h-1zM838 498h1v1h-1zM839 498h1v1h-1zM840 498h1v1h-1zM841 498h1v1h-1zM842 498h1v1h-1zM843 498h1v1h-1zM844 498h1v1h-1zM845 498h1v1h-1zM846 498h1v1h-1zM847 498h1v1h-1zM848 498h1v1h-1zM849 498h1v1h-1zM850 498h1v1h-1zM851 498h1v1h-1zM852 498h1v1h-1zM853 497h1v2h-1zM854 497h1v1h-1zM855 497h1v1h-1zM856 498h1v1h-1zM857 498h1v1h-1zM858 498h1v1h-1zM859 497h1v2h-1zM860 494h1v4h-1zM861 491h1v4h-1zM862 491h1v1h-1zM863 491h1v1h-1zM864 489h1v3h-1zM865 483h1v7h-1zM866 476h1v8h-1zM867 473h1v4h-1zM868 474h1v7h-1zM869 481h1v10h-1zM870 491h1v5h-1zM871 496h1v1h-1zM872 497h1v1h-1zM873 498h1v1h-1zM874 498h1v1h-1zM875 498h1v1h-1zM876 498h1v1h-1zM877 498h1v1h-1zM878 498h1v1h-1zM879 498h1v1h-1zM880 498h1v1h-1zM881 498h1v1h-1zM882 498h1v1h-1zM883 498h1v1h-1zM884 498h1v1h-1zM885 498h1v1h-1zM886 498h1v1h-1zM887 498h1v1h-1zM888 498h1v1h-1zM889 498h1v1h-1zM890 498h1v1h-1zM891 498h1v1h-1zM892 498h1v1h-1zM893 498h1v1h-1zM894 498h1v1h-1zM895 498h1v1h-1zM896 498h1v1h-1zM897 498h1v1h-1zM898 498h1v1h-1zM899 498h1v1h-1zM900 498h1v1h-1zM901 498h1v1h-1zM902 498h1v1h-1zM903 498h1v1h-1zM904 498h1v1h-1zM905 498h1v1h-1zM906 498h1v1h-1zM907 498h1v1h-1zM908 498h1v1h-1zM909 498h1v1h-1zM910 498h1v1h-1zM911 498h1v1h-1zM912 498h1v1h-1zM913 498h1v1h-1zM914 498h1v1h-1zM915 498h1v1h-1zM916 498h1v1h-1zM917 498h1v1h-1zM918 498h1v1h-1zM919 498h1v1h-1zM920 498h1v1h-1zM921 498h1v1h-1zM922 498h1v1h-1zM923 498h1v1h-1zM924 498h1v1h-1zM925 498h1v1h-1zM926 498h1v1h-1zM927 498h1v1h-1zM928 498h1v1h-1zM929 498h1v1h-1zM930 498h1v1h-1zM931 498h1v1h-1zM932 498h1v1h-1zM933 498h1v1h-1zM934 498h1v1h-1zM935 498h1v1h-1zM936 498h1v1h-1zM937 498h1v1h-1zM938 498h1v1h-1zM939 498h1v1h-1z" fill="#000000"/>
<rect x="244" y="500" width="1" height="3" fill="#000000"/>
<rect x="229" y="503" width="32" height="14" fill="#000000"/>
<rect x="230" y="504" width="30" height="12" fill="#fff"/>
<rect x="544" y="500" width="1" height="3" fill="#000000"/>
<rect x="529" y="503" width="32" height="14" fill="#000000"/>
<rect x="530" y="504" width="30" height="12" fill="#fff"/>
<rect x="801" y="500" width="1" height="3" fill="#000000"/>
<rect x="786" y="503" width="32" height="14" fill="#000000"/>
<rect x="787" y="504" width="30" height="12" fill="#fff"/>
<rect x="867" y="500" width="1" height="3" fill="#000000"/>
<rect x="852" y="503" width="32" height="14" fill="#000000"/>
<rect x="853" y="504" width="30" height="12" fill="#fff"/>
<g filter="url(#crisp)"><text x="-3.25" y="177" class="cell">0</text>
<text x="-3.25" y="362" class="cell">0</text></g>
<g clip-path="url(#clipL)"><g filter="url(#crisp4)"><text x="190" y="13" class="bin" text-anchor="start" >PG-99</text>
<text x="273" y="13" class="bin" text-anchor="start" >PG-107</text>
<text x="460" y="13" class="bin" text-anchor="start" >PG-86</text>
<text x="37.75 43.75" y="28" class="ax">90</text>
<text x="76.75 82.75 88.75" y="28" class="ax">100</text>
<text x="117.75 123.75 129.75" y="28" class="ax">110</text>
<text x="159.75 165.75 171.75" y="28" class="ax">120</text>
<text x="201.75 207.75 213.75" y="28" class="ax">130</text>
<text x="242.75 248.75 254.75" y="28" class="ax">140</text>
<text x="284.75 290.75 296.75" y="28" class="ax">150</text>
<text x="325.75 331.75 337.75" y="28" class="ax">160</text>
<text x="367.75 373.75 379.75" y="28" class="ax">170</text>
<text x="409.75 415.75 421.75" y="28" class="ax">180</text>
<text x="450.75 456.75 462.75" y="28" class="ax">190</text>
<text x="492.75 498.75 504.75" y="28" class="ax">200</text>
<text x="534.75 540.75 546.75" y="28" class="ax">210</text>
<text x="575.75 581.75 587.75" y="28" class="ax">220</text>
<text x="617.75 623.75 629.75" y="28" class="ax">230</text>
<text x="658.75 664.75 670.75" y="28" class="ax">240</text>
<text x="700.75 706.75 712.75" y="28" class="ax">250</text>
<text x="742.75 748.75 754.75" y="28" class="ax">260</text>
<text x="783.75 789.75 795.75" y="28" class="ax">270</text>
<text x="825.75 831.75 837.75" y="28" class="ax">280</text>
<text x="867.75 873.75 879.75" y="28" class="ax">290</text>
<text x="908.75 914.75 920.75" y="28" class="ax">300</text>
<text x="32.75" y="131" class="ax">0</text>
<text x="14.75 20.75 26.75 32.75" y="106" class="ax">2000</text>
<text x="14.75 20.75 26.75 32.75" y="80" class="ax">4000</text>
<text x="14.75 20.75 26.75 32.75" y="55" class="ax">6000</text>
<text x="199.5 204.5 209.5 214.5 217.5 222.5" y="144" class="pk">130.91</text>
<text x="305.5 310.5 315.5 320.5 323.5 328.5" y="144" class="pk">156.36</text>
<text x="356.5 361.5 366.5 371.5 374.5 379.5" y="144" class="pk">168.50</text>
<text x="472.5 477.5 482.5 487.5 490.5 495.5" y="144" class="pk">196.44</text>
<text x="132.75 139.75 146.75 153.75 157.75 164.75" y="177" class="cell">apple1</text>
<text x="127" y="198" class="bin" text-anchor="start" >PG-542</text>
<text x="335" y="198" class="bin" text-anchor="start" >PG-1115</text>
<text x="585" y="198" class="bin" text-anchor="start" >PG-750</text>
<text x="37.75 43.75" y="212" class="ax">90</text>
<text x="76.75 82.75 88.75" y="212" class="ax">100</text>
<text x="117.75 123.75 129.75" y="212" class="ax">110</text>
<text x="159.75 165.75 171.75" y="212" class="ax">120</text>
<text x="201.75 207.75 213.75" y="212" class="ax">130</text>
<text x="242.75 248.75 254.75" y="212" class="ax">140</text>
<text x="284.75 290.75 296.75" y="212" class="ax">150</text>
<text x="325.75 331.75 337.75" y="212" class="ax">160</text>
<text x="367.75 373.75 379.75" y="212" class="ax">170</text>
<text x="409.75 415.75 421.75" y="212" class="ax">180</text>
<text x="450.75 456.75 462.75" y="212" class="ax">190</text>
<text x="492.75 498.75 504.75" y="212" class="ax">200</text>
<text x="534.75 540.75 546.75" y="212" class="ax">210</text>
<text x="575.75 581.75 587.75" y="212" class="ax">220</text>
<text x="617.75 623.75 629.75" y="212" class="ax">230</text>
<text x="658.75 664.75 670.75" y="212" class="ax">240</text>
<text x="700.75 706.75 712.75" y="212" class="ax">250</text>
<text x="742.75 748.75 754.75" y="212" class="ax">260</text>
<text x="783.75 789.75 795.75" y="212" class="ax">270</text>
<text x="825.75 831.75 837.75" y="212" class="ax">280</text>
<text x="867.75 873.75 879.75" y="212" class="ax">290</text>
<text x="908.75 914.75 920.75" y="212" class="ax">300</text>
<text x="32.75" y="301" class="ax">0</text>
<text x="14.75 20.75 26.75 32.75" y="275" class="ax">6000</text>
<text x="8.75 14.75 20.75 26.75 32.75" y="249" class="ax">12000</text>
<text x="8.75 14.75 20.75 26.75 32.75" y="223" class="ax">18000</text>
<text x="190.5 195.5 200.5 205.5 208.5 213.5" y="314" class="pk">128.58</text>
<text x="367.5 372.5 377.5 382.5 385.5 390.5" y="314" class="pk">171.19</text>
<text x="392.5 397.5 402.5 407.5 410.5 415.5" y="331" class="pk">177.10</text>
<text x="620.5 625.5 630.5 635.5 638.5 643.5" y="314" class="pk">231.94</text>
<text x="132.75 139.75 146.75 153.75 157.75 164.75" y="362" class="cell">apple1</text>
<text x="169" y="383" class="bin" text-anchor="start" >PG-1045</text>
<text x="502" y="383" class="bin" text-anchor="start" >PG-806</text>
<text x="752" y="383" class="bin" text-anchor="start" >PG-1001</text>
<text x="37.75 43.75" y="398" class="ax">90</text>
<text x="76.75 82.75 88.75" y="398" class="ax">100</text>
<text x="117.75 123.75 129.75" y="398" class="ax">110</text>
<text x="159.75 165.75 171.75" y="398" class="ax">120</text>
<text x="201.75 207.75 213.75" y="398" class="ax">130</text>
<text x="242.75 248.75 254.75" y="398" class="ax">140</text>
<text x="284.75 290.75 296.75" y="398" class="ax">150</text>
<text x="325.75 331.75 337.75" y="398" class="ax">160</text>
<text x="367.75 373.75 379.75" y="398" class="ax">170</text>
<text x="409.75 415.75 421.75" y="398" class="ax">180</text>
<text x="450.75 456.75 462.75" y="398" class="ax">190</text>
<text x="492.75 498.75 504.75" y="398" class="ax">200</text>
<text x="534.75 540.75 546.75" y="398" class="ax">210</text>
<text x="575.75 581.75 587.75" y="398" class="ax">220</text>
<text x="617.75 623.75 629.75" y="398" class="ax">230</text>
<text x="658.75 664.75 670.75" y="398" class="ax">240</text>
<text x="700.75 706.75 712.75" y="398" class="ax">250</text>
<text x="742.75 748.75 754.75" y="398" class="ax">260</text>
<text x="783.75 789.75 795.75" y="398" class="ax">270</text>
<text x="825.75 831.75 837.75" y="398" class="ax">280</text>
<text x="867.75 873.75 879.75" y="398" class="ax">290</text>
<text x="908.75 914.75 920.75" y="398" class="ax">300</text>
<text x="32.75" y="501" class="ax">0</text>
<text x="14.75 20.75 26.75 32.75" y="460" class="ax">2000</text>
<text x="14.75 20.75 26.75 32.75" y="419" class="ax">4000</text>
<text x="230.5 235.5 240.5 245.5 248.5 253.5" y="514" class="pk">138.31</text>
<text x="530.5 535.5 540.5 545.5 548.5 553.5" y="514" class="pk">210.26</text>
<text x="787.5 792.5 797.5 802.5 805.5 810.5" y="514" class="pk">272.04</text>
<text x="853.5 858.5 863.5 868.5 871.5 876.5" y="514" class="pk">287.98</text></g></g>
</svg>
</body></html>
